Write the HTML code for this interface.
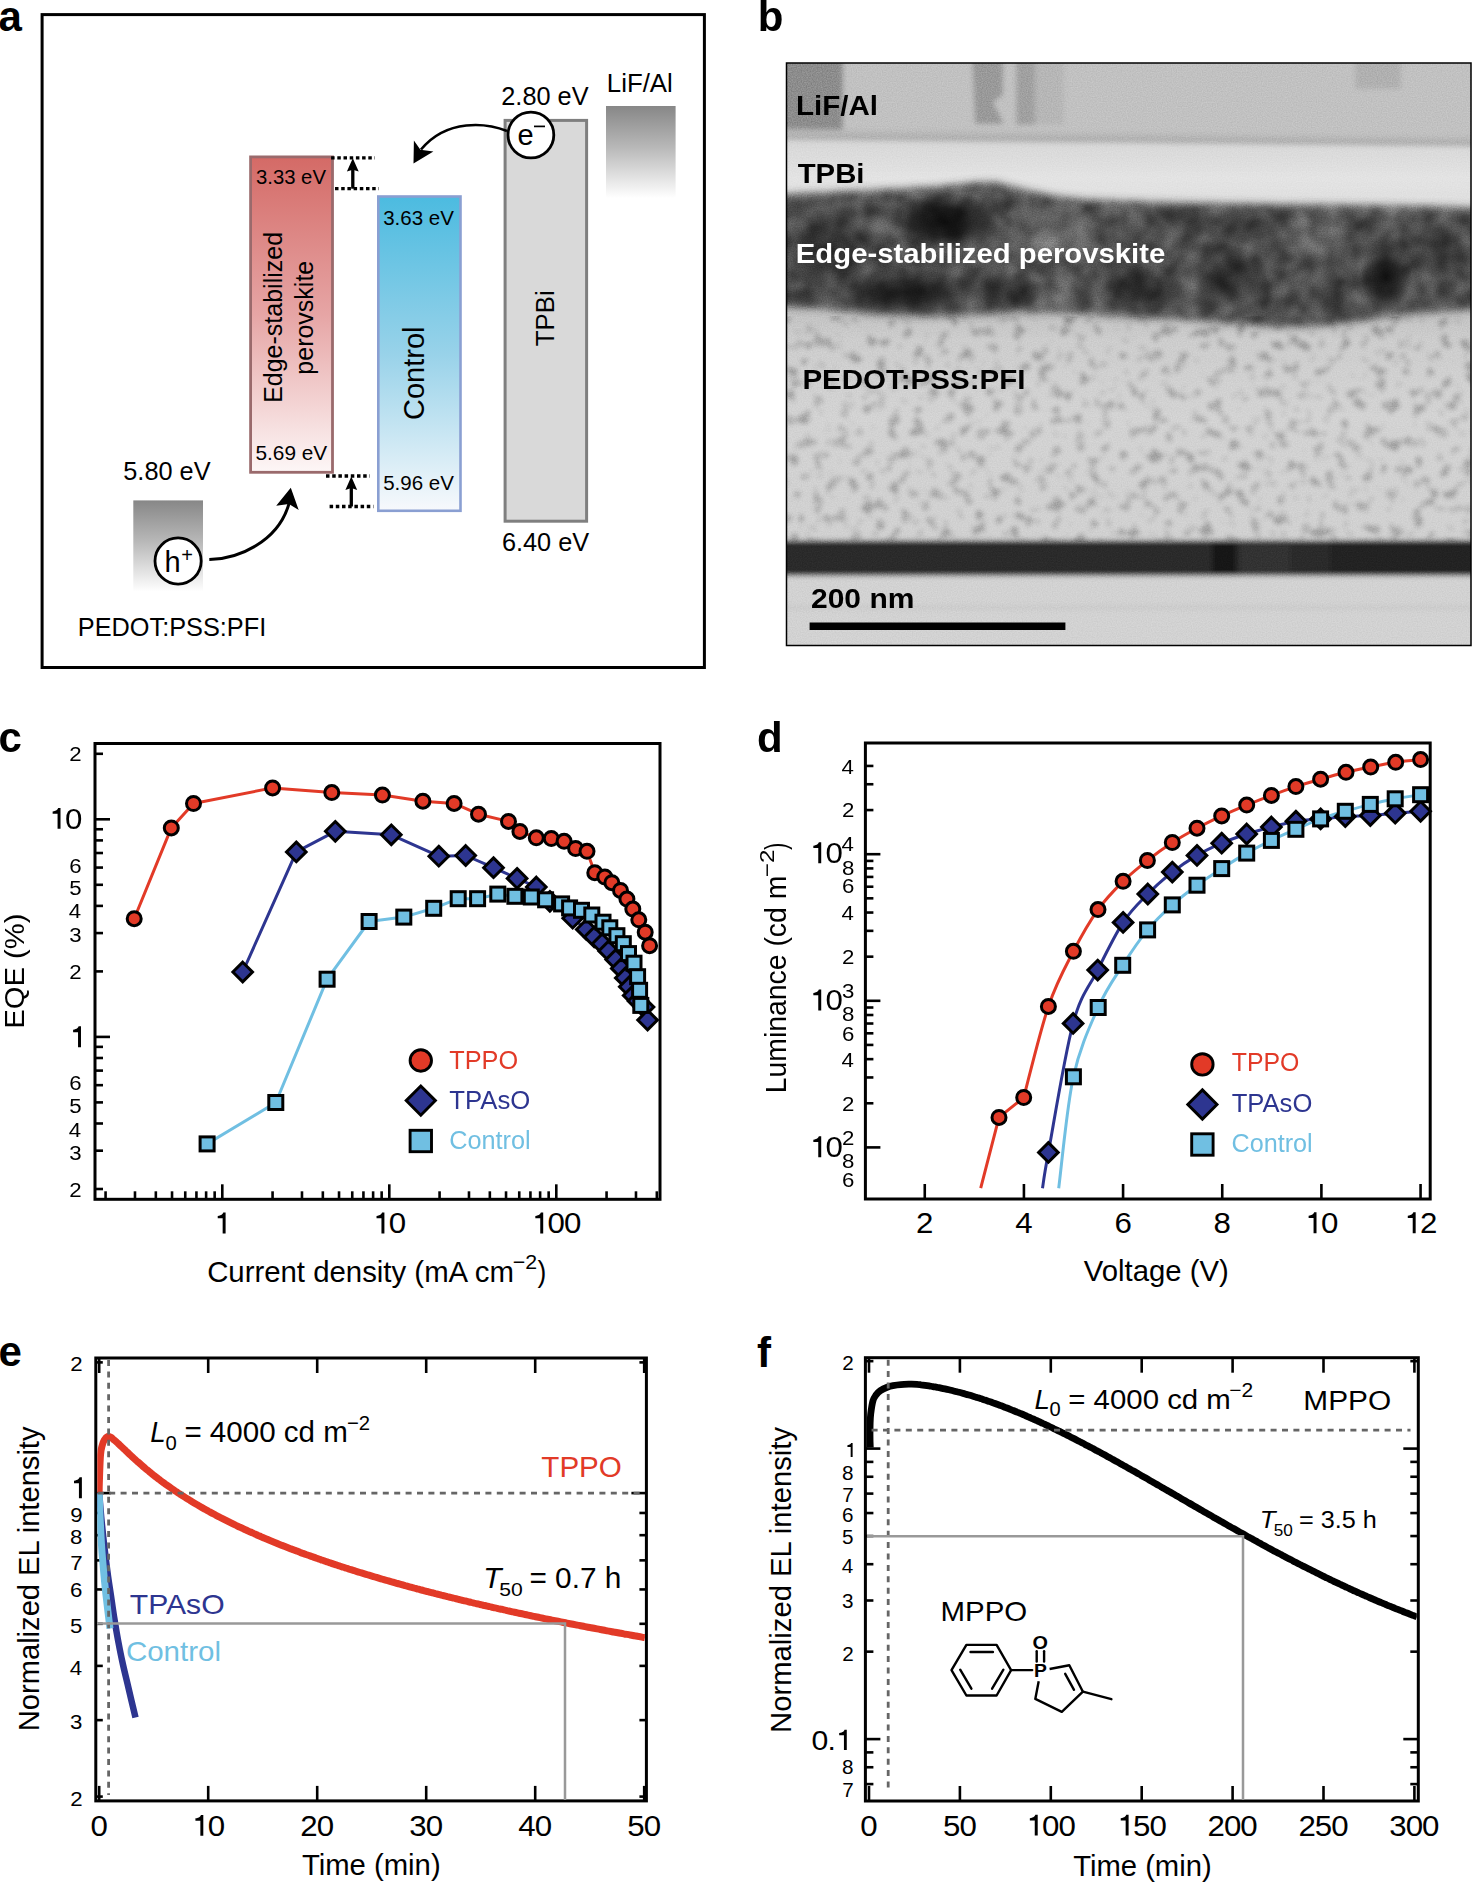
<!DOCTYPE html>
<html><head><meta charset="utf-8"><style>
html,body{margin:0;padding:0;background:#fff;}
svg{display:block;}
text{font-family:"Liberation Sans", sans-serif;}
</style></head><body>
<svg xmlns="http://www.w3.org/2000/svg" width="1472" height="1884" viewBox="0 0 1472 1884">
<rect width="1472" height="1884" fill="#fff"/>
<defs><linearGradient id="gRed" x1="0" y1="0" x2="0" y2="1"><stop offset="0" stop-color="#d46a66"/><stop offset="0.5" stop-color="#e6a5a5"/><stop offset="1" stop-color="#fdf7f7"/></linearGradient><linearGradient id="gBlue" x1="0" y1="0" x2="0" y2="1"><stop offset="0" stop-color="#4cbbe0"/><stop offset="0.5" stop-color="#98d2e9"/><stop offset="1" stop-color="#f7f9fc"/></linearGradient><linearGradient id="gGray" x1="0" y1="0" x2="0" y2="1"><stop offset="0" stop-color="#878787"/><stop offset="0.45" stop-color="#b8b8b8"/><stop offset="1" stop-color="#ffffff"/></linearGradient></defs>
<text x="-1.5" y="31.0" font-size="42" font-weight="bold" fill="#000">a</text>
<rect x="42.1" y="14.6" width="662.3" height="652.9" fill="none" stroke="#000" stroke-width="3"/>
<rect x="606" y="106" width="69.6" height="92" fill="url(#gGray)"/>
<rect x="133.3" y="500.4" width="69.7" height="91.3" fill="url(#gGray)"/>
<rect x="250.6" y="156.9" width="81.9" height="315.4" fill="url(#gRed)" stroke="#9a6a6c" stroke-width="2.8"/>
<rect x="378.3" y="196.5" width="82.2" height="314.3" fill="url(#gBlue)" stroke="#8a9fd2" stroke-width="2.6"/>
<rect x="505.1" y="120.4" width="81.5" height="400.8" fill="#d9d9d9" stroke="#7f7f7f" stroke-width="3"/>
<text x="501.3" y="105.4" font-size="25.3" fill="#000">2.80 eV</text>
<text x="606.8" y="92.0" font-size="25.8" fill="#000">LiF/Al</text>
<text x="123.3" y="479.8" font-size="25.3" fill="#000">5.80 eV</text>
<text x="501.9" y="550.5" font-size="25.3" fill="#000">6.40 eV</text>
<text x="77.8" y="636.3" font-size="25.3" fill="#000">PEDOT:PSS:PFI</text>
<text x="256.0" y="184.0" font-size="20.3" fill="#000">3.33 eV</text>
<text x="255.5" y="459.8" font-size="20.8" fill="#000">5.69 eV</text>
<text x="383.2" y="225.2" font-size="20.5" fill="#000">3.63 eV</text>
<text x="383.2" y="490.0" font-size="20.5" fill="#000">5.96 eV</text>
<text transform="translate(282.3,317.4) rotate(-90)" font-size="25" text-anchor="middle">Edge-stabilized</text>
<text transform="translate(313,317.7) rotate(-90)" font-size="25" text-anchor="middle">perovskite</text>
<text transform="translate(423.5,373.2) rotate(-90)" font-size="29" text-anchor="middle">Control</text>
<text transform="translate(553.8,318.2) rotate(-90)" font-size="25.8" text-anchor="middle">TPBi</text>
<line x1="331.10" y1="157.90" x2="374.90" y2="157.90" stroke="#000" stroke-width="3.3" stroke-dasharray="3.5 2.7"/>
<line x1="335.00" y1="188.70" x2="378.80" y2="188.70" stroke="#000" stroke-width="3.3" stroke-dasharray="3.5 2.7"/>
<line x1="326.00" y1="476.00" x2="369.80" y2="476.00" stroke="#000" stroke-width="3.3" stroke-dasharray="3.5 2.7"/>
<line x1="329.60" y1="506.50" x2="373.40" y2="506.50" stroke="#000" stroke-width="3.3" stroke-dasharray="3.5 2.7"/>
<line x1="352.80" y1="188.70" x2="352.80" y2="169.20" stroke="#000" stroke-width="3.3"/>
<path d="M352.8,158.2 L346.90000000000003,171.6 L352.8,169.79999999999998 L358.7,171.6 Z" fill="#000"/>
<line x1="351.30" y1="506.50" x2="351.30" y2="487.50" stroke="#000" stroke-width="3.3"/>
<path d="M351.3,476.5 L345.40000000000003,489.9 L351.3,488.1 L357.2,489.9 Z" fill="#000"/>
<circle cx="530.9" cy="135" r="22.9" fill="#fff" stroke="#000" stroke-width="2.8"/>
<text x="517.6" y="144.7" font-size="29" fill="#000">e</text>
<line x1="534" y1="126.4" x2="545" y2="126.4" stroke="#000" stroke-width="1.7"/>
<circle cx="178.1" cy="561" r="23.1" fill="#fff" stroke="#000" stroke-width="2.8"/>
<text x="164.5" y="572.0" font-size="29" fill="#000">h</text>
<text x="181.3" y="561.5" font-size="20" fill="#000">+</text>
<path d="M507,131 C487,123 447,118 421,149.5" fill="none" stroke="#000" stroke-width="2.6"/>
<path d="M413.5,163.6 L413.9,140.4 L420.4,149.7 L433.4,151.4 Z" fill="#000"/>
<path d="M209.3,559.6 C238,559 278,542 288.9,503.9" fill="none" stroke="#000" stroke-width="3"/>
<path d="M290.8,487.8 L298.7,509.9 L288.9,503.9 L276.2,505.8 Z" fill="#000"/>
<defs><clipPath id="cpB"><rect x="786.5" y="63" width="684.5" height="582.5"/></clipPath><filter id="blurB" x="-5%" y="-5%" width="110%" height="110%"><feGaussianBlur stdDeviation="2.5"/></filter><filter id="blurP" x="-5%" y="-20%" width="110%" height="140%"><feGaussianBlur stdDeviation="4.5"/></filter><filter id="blurB2" x="-30%" y="-30%" width="160%" height="160%"><feGaussianBlur stdDeviation="9"/></filter><filter id="speck" x="0" y="0" width="100%" height="100%" color-interpolation-filters="sRGB"><feTurbulence type="fractalNoise" baseFrequency="0.08" numOctaves="2" seed="7"/><feColorMatrix type="matrix" values="0 0 0 0 0  0 0 0 0 0  0 0 0 0 0  -4.5 0 0 0 2.1"/><feGaussianBlur stdDeviation="2.2"/></filter><filter id="blot" x="0" y="0" width="100%" height="100%" color-interpolation-filters="sRGB"><feTurbulence type="fractalNoise" baseFrequency="0.055" numOctaves="2" seed="4"/><feColorMatrix type="matrix" values="1.3 0 0 0 -0.15  1.3 0 0 0 -0.15  1.3 0 0 0 -0.15  0 0 0 0 1"/><feGaussianBlur stdDeviation="2"/></filter><filter id="grain" x="0" y="0" width="100%" height="100%" color-interpolation-filters="sRGB"><feTurbulence type="fractalNoise" baseFrequency="0.8" numOctaves="1" seed="5"/><feColorMatrix type="matrix" values="1 0 0 0 0  1 0 0 0 0  1 0 0 0 0  0 0 0 0 1"/></filter><linearGradient id="gTPBi" x1="0" y1="0" x2="0" y2="1"><stop offset="0" stop-color="#d6d6d6"/><stop offset="0.5" stop-color="#e3e3e3"/><stop offset="1" stop-color="#dddddd"/></linearGradient><linearGradient id="gPED" x1="0" y1="0" x2="0" y2="1"><stop offset="0" stop-color="#b8b8b8"/><stop offset="0.2" stop-color="#cdcdcd"/><stop offset="0.5" stop-color="#d3d3d3"/><stop offset="1" stop-color="#d0d0d0"/></linearGradient><clipPath id="cpPer"><path d="M776,196 C820,193 880,191 930,188 C960,186 985,181 1000,184 C1015,188 1040,196 1080,200 C1150,204 1250,205 1350,206 C1420,207 1460,208 1480,209 L1480,308 C1440,310 1410,313 1380,317 C1330,325 1300,327 1260,325 C1220,321 1180,317 1150,317 C1100,315 1070,311 1040,311 C1000,312 960,315 920,315 C880,315 850,311 820,307 L776,305 Z"/></clipPath></defs>
<g clip-path="url(#cpB)" style="isolation:isolate">
<g filter="url(#blurB)">
<rect x="776.5" y="53" width="704.5" height="90" fill="#c1c1c1"/>
<path d="M780,55 L843,55 L843,126 Q843,133 836,133 L780,133 Z" fill="#8c8c8c"/>
<path d="M972,55 L1003,55 L1003,95 L993,102 L1004,124 L975,124 Z" fill="#999"/>
<rect x="1016" y="55" width="19" height="70" fill="#a0a0a0"/>
<rect x="1035" y="55" width="29" height="70" fill="#b6b6b6"/>
<rect x="1355" y="55" width="46" height="34" fill="#b0b0b0"/>
<path d="M776.5,129 L1481,137 L1481,147 L776.5,140 Z" fill="#b8b8b8"/>
<path d="M776.5,135 L1481,141.5 L1481,145.5 L776.5,139 Z" fill="#acacac"/>
<path d="M776.5,140 L1481,147 L1481,215 L776.5,215 Z" fill="url(#gTPBi)"/>
<rect x="776.5" y="290" width="704.5" height="252" fill="url(#gPED)"/>
<rect x="776.5" y="540.5" width="704.5" height="36" fill="#2a2a2a"/>
<rect x="1212" y="540.5" width="24" height="36" fill="#161616"/>
<rect x="1240" y="540.5" width="50" height="36" fill="#333"/>
<rect x="1330" y="540.5" width="145" height="36" fill="#222"/>
<rect x="776.5" y="575.5" width="704.5" height="80" fill="#d2d2d2"/>
<rect x="776.5" y="606" width="704.5" height="3" fill="#c6c6c6"/>
</g>
<path d="M776,196 C820,193 880,191 930,188 C960,186 985,181 1000,184 C1015,188 1040,196 1080,200 C1150,204 1250,205 1350,206 C1420,207 1460,208 1480,209 L1480,308 C1440,310 1410,313 1380,317 C1330,325 1300,327 1260,325 C1220,321 1180,317 1150,317 C1100,315 1070,311 1040,311 C1000,312 960,315 920,315 C880,315 850,311 820,307 L776,305 Z" fill="#3a3a3a" filter="url(#blurP)"/>
<defs><radialGradient id="rgD"><stop offset="0" stop-color="#000" stop-opacity="1"/><stop offset="0.45" stop-color="#000" stop-opacity="0.75"/><stop offset="1" stop-color="#000" stop-opacity="0"/></radialGradient><radialGradient id="rgL"><stop offset="0" stop-color="#fff" stop-opacity="1"/><stop offset="0.5" stop-color="#fff" stop-opacity="0.6"/><stop offset="1" stop-color="#fff" stop-opacity="0"/></radialGradient><mask id="mPer" maskUnits="userSpaceOnUse" x="780" y="150" width="700" height="200"><path d="M776,196 C820,193 880,191 930,188 C960,186 985,181 1000,184 C1015,188 1040,196 1080,200 C1150,204 1250,205 1350,206 C1420,207 1460,208 1480,209 L1480,308 C1440,310 1410,313 1380,317 C1330,325 1300,327 1260,325 C1220,321 1180,317 1150,317 C1100,315 1070,311 1040,311 C1000,312 960,315 920,315 C880,315 850,311 820,307 L776,305 Z" fill="#fff" filter="url(#blurP)"/></mask></defs>
<g mask="url(#mPer)">
<ellipse cx="945" cy="222" rx="55" ry="30" fill="url(#rgD)" opacity="0.85"/>
<ellipse cx="905" cy="292" rx="75" ry="24" fill="url(#rgD)" opacity="0.7"/>
<ellipse cx="830" cy="250" rx="50" ry="42" fill="url(#rgD)" opacity="0.45"/>
<ellipse cx="1386" cy="277" rx="26" ry="34" fill="url(#rgD)" opacity="0.8"/>
<ellipse cx="1230" cy="275" rx="38" ry="32" fill="url(#rgD)" opacity="0.5"/>
<ellipse cx="1250" cy="225" rx="50" ry="22" fill="url(#rgD)" opacity="0.2"/>
<ellipse cx="1140" cy="288" rx="45" ry="26" fill="url(#rgD)" opacity="0.5"/>
<ellipse cx="1010" cy="292" rx="35" ry="20" fill="url(#rgD)" opacity="0.45"/>
<ellipse cx="1440" cy="250" rx="35" ry="30" fill="url(#rgD)" opacity="0.3"/>
<ellipse cx="1180" cy="218" rx="40" ry="16" fill="url(#rgD)" opacity="0.25"/>
<ellipse cx="800" cy="300" rx="30" ry="15" fill="url(#rgD)" opacity="0.3"/>
<ellipse cx="1330" cy="300" rx="30" ry="15" fill="url(#rgD)" opacity="0.3"/>
<ellipse cx="1050" cy="235" rx="55" ry="38" fill="url(#rgL)" opacity="0.2"/>
<ellipse cx="1315" cy="235" rx="35" ry="28" fill="url(#rgL)" opacity="0.14"/>
<ellipse cx="1060" cy="300" rx="40" ry="18" fill="url(#rgL)" opacity="0.1"/>
<rect x="786" y="170" width="690" height="170" filter="url(#blot)" style="mix-blend-mode:overlay" opacity="0.3"/>
</g>
<rect x="786" y="316" width="690" height="226" filter="url(#speck)" opacity="0.24"/>
<rect x="786.5" y="63" width="684.5" height="582.5" filter="url(#grain)" style="mix-blend-mode:overlay" opacity="0.25"/>
</g>
<rect x="786.5" y="63" width="684.5" height="582.5" fill="none" stroke="#000" stroke-width="1.5"/>
<text x="757.8" y="31.0" font-size="42" font-weight="bold" fill="#000">b</text>
<text transform="translate(796.01,115.00) scale(1.0367,1)" font-size="28.5" font-weight="bold" fill="#000">LiF/Al</text>
<text transform="translate(797.71,182.50) scale(1.0283,1)" font-size="28.5" font-weight="bold" fill="#000">TPBi</text>
<text transform="translate(795.82,263.40) scale(1.0281,1)" font-size="28.5" font-weight="bold" fill="#fff">Edge-stabilized perovskite</text>
<text transform="translate(802.41,389.30) scale(1.0357,1)" font-size="28.5" font-weight="bold" fill="#000">PEDOT:PSS:PFI</text>
<text transform="translate(810.95,608.00) scale(1.0537,1)" font-size="28.5" font-weight="bold" fill="#000">200 nm</text>
<rect x="809.6" y="622.5" width="255.8" height="7.5" fill="#000"/>
<text x="-1.5" y="751.5" font-size="42" font-weight="bold" fill="#000">c</text>
<rect x="95" y="743.5" width="565" height="455.79999999999995" fill="none" stroke="#000" stroke-width="3"/>
<line x1="105.57" y1="1199.30" x2="105.57" y2="1191.30" stroke="#000" stroke-width="2.6"/>
<line x1="134.98" y1="1199.30" x2="134.98" y2="1191.30" stroke="#000" stroke-width="2.6"/>
<line x1="155.84" y1="1199.30" x2="155.84" y2="1191.30" stroke="#000" stroke-width="2.6"/>
<line x1="172.03" y1="1199.30" x2="172.03" y2="1191.30" stroke="#000" stroke-width="2.6"/>
<line x1="185.25" y1="1199.30" x2="185.25" y2="1191.30" stroke="#000" stroke-width="2.6"/>
<line x1="196.43" y1="1199.30" x2="196.43" y2="1191.30" stroke="#000" stroke-width="2.6"/>
<line x1="206.12" y1="1199.30" x2="206.12" y2="1191.30" stroke="#000" stroke-width="2.6"/>
<line x1="214.66" y1="1199.30" x2="214.66" y2="1191.30" stroke="#000" stroke-width="2.6"/>
<line x1="222.30" y1="1199.30" x2="222.30" y2="1184.30" stroke="#000" stroke-width="2.6"/>
<line x1="272.57" y1="1199.30" x2="272.57" y2="1191.30" stroke="#000" stroke-width="2.6"/>
<line x1="301.98" y1="1199.30" x2="301.98" y2="1191.30" stroke="#000" stroke-width="2.6"/>
<line x1="322.84" y1="1199.30" x2="322.84" y2="1191.30" stroke="#000" stroke-width="2.6"/>
<line x1="339.03" y1="1199.30" x2="339.03" y2="1191.30" stroke="#000" stroke-width="2.6"/>
<line x1="352.25" y1="1199.30" x2="352.25" y2="1191.30" stroke="#000" stroke-width="2.6"/>
<line x1="363.43" y1="1199.30" x2="363.43" y2="1191.30" stroke="#000" stroke-width="2.6"/>
<line x1="373.12" y1="1199.30" x2="373.12" y2="1191.30" stroke="#000" stroke-width="2.6"/>
<line x1="381.66" y1="1199.30" x2="381.66" y2="1191.30" stroke="#000" stroke-width="2.6"/>
<line x1="389.30" y1="1199.30" x2="389.30" y2="1184.30" stroke="#000" stroke-width="2.6"/>
<line x1="439.57" y1="1199.30" x2="439.57" y2="1191.30" stroke="#000" stroke-width="2.6"/>
<line x1="468.98" y1="1199.30" x2="468.98" y2="1191.30" stroke="#000" stroke-width="2.6"/>
<line x1="489.84" y1="1199.30" x2="489.84" y2="1191.30" stroke="#000" stroke-width="2.6"/>
<line x1="506.03" y1="1199.30" x2="506.03" y2="1191.30" stroke="#000" stroke-width="2.6"/>
<line x1="519.25" y1="1199.30" x2="519.25" y2="1191.30" stroke="#000" stroke-width="2.6"/>
<line x1="530.43" y1="1199.30" x2="530.43" y2="1191.30" stroke="#000" stroke-width="2.6"/>
<line x1="540.12" y1="1199.30" x2="540.12" y2="1191.30" stroke="#000" stroke-width="2.6"/>
<line x1="548.66" y1="1199.30" x2="548.66" y2="1191.30" stroke="#000" stroke-width="2.6"/>
<line x1="556.30" y1="1199.30" x2="556.30" y2="1184.30" stroke="#000" stroke-width="2.6"/>
<line x1="606.57" y1="1199.30" x2="606.57" y2="1191.30" stroke="#000" stroke-width="2.6"/>
<line x1="635.98" y1="1199.30" x2="635.98" y2="1191.30" stroke="#000" stroke-width="2.6"/>
<line x1="656.84" y1="1199.30" x2="656.84" y2="1191.30" stroke="#000" stroke-width="2.6"/>
<line x1="95.00" y1="1189.00" x2="103.00" y2="1189.00" stroke="#000" stroke-width="2.6"/>
<line x1="95.00" y1="1150.68" x2="103.00" y2="1150.68" stroke="#000" stroke-width="2.6"/>
<line x1="95.00" y1="1123.49" x2="103.00" y2="1123.49" stroke="#000" stroke-width="2.6"/>
<line x1="95.00" y1="1102.40" x2="103.00" y2="1102.40" stroke="#000" stroke-width="2.6"/>
<line x1="95.00" y1="1085.17" x2="103.00" y2="1085.17" stroke="#000" stroke-width="2.6"/>
<line x1="95.00" y1="1070.61" x2="103.00" y2="1070.61" stroke="#000" stroke-width="2.6"/>
<line x1="95.00" y1="1057.99" x2="103.00" y2="1057.99" stroke="#000" stroke-width="2.6"/>
<line x1="95.00" y1="1046.86" x2="103.00" y2="1046.86" stroke="#000" stroke-width="2.6"/>
<line x1="95.00" y1="1036.90" x2="110.00" y2="1036.90" stroke="#000" stroke-width="2.6"/>
<line x1="95.00" y1="971.40" x2="103.00" y2="971.40" stroke="#000" stroke-width="2.6"/>
<line x1="95.00" y1="933.08" x2="103.00" y2="933.08" stroke="#000" stroke-width="2.6"/>
<line x1="95.00" y1="905.89" x2="103.00" y2="905.89" stroke="#000" stroke-width="2.6"/>
<line x1="95.00" y1="884.80" x2="103.00" y2="884.80" stroke="#000" stroke-width="2.6"/>
<line x1="95.00" y1="867.57" x2="103.00" y2="867.57" stroke="#000" stroke-width="2.6"/>
<line x1="95.00" y1="853.01" x2="103.00" y2="853.01" stroke="#000" stroke-width="2.6"/>
<line x1="95.00" y1="840.39" x2="103.00" y2="840.39" stroke="#000" stroke-width="2.6"/>
<line x1="95.00" y1="829.26" x2="103.00" y2="829.26" stroke="#000" stroke-width="2.6"/>
<line x1="95.00" y1="819.30" x2="110.00" y2="819.30" stroke="#000" stroke-width="2.6"/>
<line x1="95.00" y1="753.80" x2="103.00" y2="753.80" stroke="#000" stroke-width="2.6"/>
<path d="M0.29,0 L0.39,0 L0.39,-0.709 L0.31,-0.709 C0.295,-0.665 0.265,-0.615 0.123,-0.592 L0.123,-0.512 L0.29,-0.512 Z" transform="translate(214.10,1233.40) scale(29.5)" fill="#000"/>
<path d="M0.29,0 L0.39,0 L0.39,-0.709 L0.31,-0.709 C0.295,-0.665 0.265,-0.615 0.123,-0.592 L0.123,-0.512 L0.29,-0.512 Z" transform="translate(372.90,1233.40) scale(29.5)" fill="#000"/>
<text transform="translate(397.50,1233.40) scale(1.06,1)" font-size="29.5" text-anchor="middle" fill="#000">0</text>
<path d="M0.29,0 L0.39,0 L0.39,-0.709 L0.31,-0.709 C0.295,-0.665 0.265,-0.615 0.123,-0.592 L0.123,-0.512 L0.29,-0.512 Z" transform="translate(531.70,1233.40) scale(29.5)" fill="#000"/>
<text transform="translate(556.30,1233.40) scale(1.06,1)" font-size="29.5" text-anchor="middle" fill="#000">0</text>
<text transform="translate(572.70,1233.40) scale(1.06,1)" font-size="29.5" text-anchor="middle" fill="#000">0</text>
<path d="M0.29,0 L0.39,0 L0.39,-0.709 L0.31,-0.709 C0.295,-0.665 0.265,-0.615 0.123,-0.592 L0.123,-0.512 L0.29,-0.512 Z" transform="translate(49.01,828.84) scale(29.5)" fill="#000"/>
<text transform="translate(73.61,828.84) scale(1.06,1)" font-size="29.5" text-anchor="middle" fill="#000">0</text>
<path d="M0.29,0 L0.39,0 L0.39,-0.709 L0.31,-0.709 C0.295,-0.665 0.265,-0.615 0.123,-0.592 L0.123,-0.512 L0.29,-0.512 Z" transform="translate(69.48,1047.24) scale(29.5)" fill="#000"/>
<text transform="translate(75.55,760.93) scale(1.06,1)" font-size="21" text-anchor="middle" fill="#000">2</text>
<text transform="translate(75.38,872.63) scale(1.06,1)" font-size="21" text-anchor="middle" fill="#000">6</text>
<text transform="translate(75.32,895.23) scale(1.06,1)" font-size="21" text-anchor="middle" fill="#000">5</text>
<text transform="translate(75.04,917.83) scale(1.06,1)" font-size="21" text-anchor="middle" fill="#000">4</text>
<text transform="translate(75.38,942.43) scale(1.06,1)" font-size="21" text-anchor="middle" fill="#000">3</text>
<text transform="translate(75.55,979.23) scale(1.06,1)" font-size="21" text-anchor="middle" fill="#000">2</text>
<text transform="translate(75.38,1090.43) scale(1.06,1)" font-size="21" text-anchor="middle" fill="#000">6</text>
<text transform="translate(75.32,1113.43) scale(1.06,1)" font-size="21" text-anchor="middle" fill="#000">5</text>
<text transform="translate(75.04,1136.93) scale(1.06,1)" font-size="21" text-anchor="middle" fill="#000">4</text>
<text transform="translate(75.38,1159.53) scale(1.06,1)" font-size="21" text-anchor="middle" fill="#000">3</text>
<text transform="translate(75.55,1197.43) scale(1.06,1)" font-size="21" text-anchor="middle" fill="#000">2</text>
<text transform="translate(23.90,1028.81) rotate(-90) scale(1.0261,1)" font-size="28.5" fill="#000">EQE (%)</text>
<text transform="translate(207.13,1281.70) scale(1.0129,1)" font-size="29" fill="#000">Current density (mA cm</text>
<text transform="translate(512.73,1268.80) scale(1.0413,1)" font-size="20.5" fill="#000">−2</text>
<text transform="translate(537.60,1281.70) scale(0.9109,1)" font-size="29" fill="#000">)</text>
<polyline points="134.2,918.7 171.3,827.9 193.5,803.5 272.6,787.9 331.8,792.6 382.4,795.1 422.9,801.2 454.1,803.4 478.5,814.2 508.5,821.4 519.9,831.4 536.3,837.8 551.3,838.5 564.1,841.3 575.6,848.5 587.0,851.3 594.8,872.7 604.8,877.0 611.9,882.7 620.5,890.4 626.9,899.1 632.8,909.1 638.8,919.8 645.2,932.2 649.6,945.7" fill="none" stroke="#e23a27" stroke-width="3" stroke-linejoin="round"/>
<polyline points="242.7,972.0 296.3,851.9 335.3,831.3 391.3,834.8 438.8,856.2 465.7,855.5 493.5,867.7 517.1,878.4 536.3,887.0 549.9,901.3 572.7,918.2 586.3,929.4 594.2,936.9 602.2,943.7 608.6,950.9 615.7,959.6 621.3,968.4 625.3,977.9 629.3,986.7 633.2,995.4 638.0,1001.0 644.0,1007.0 647.6,1020.1" fill="none" stroke="#2d3590" stroke-width="3" stroke-linejoin="round"/>
<polyline points="207.1,1143.9 275.8,1102.5 327.1,979.2 369.1,921.5 403.8,917.1 433.7,908.3 458.2,898.7 477.6,898.7 497.8,894.1 514.9,896.3 531.3,897.0 545.6,899.8 561.6,903.9 569.6,907.9 581.5,910.3 591.8,915.0 603.0,922.2 609.8,927.8 616.9,935.7 623.3,943.7 628.5,953.6 634.0,963.2 637.6,976.7 639.6,990.3 640.8,1005.4" fill="none" stroke="#70bfe2" stroke-width="3" stroke-linejoin="round"/>
<circle cx="134.2" cy="918.7" r="7.0" fill="#e23a27" stroke="#000" stroke-width="3.0"/>
<circle cx="171.3" cy="827.9" r="7.0" fill="#e23a27" stroke="#000" stroke-width="3.0"/>
<circle cx="193.5" cy="803.5" r="7.0" fill="#e23a27" stroke="#000" stroke-width="3.0"/>
<circle cx="272.6" cy="787.9" r="7.0" fill="#e23a27" stroke="#000" stroke-width="3.0"/>
<circle cx="331.8" cy="792.6" r="7.0" fill="#e23a27" stroke="#000" stroke-width="3.0"/>
<circle cx="382.4" cy="795.1" r="7.0" fill="#e23a27" stroke="#000" stroke-width="3.0"/>
<circle cx="422.9" cy="801.2" r="7.0" fill="#e23a27" stroke="#000" stroke-width="3.0"/>
<circle cx="454.1" cy="803.4" r="7.0" fill="#e23a27" stroke="#000" stroke-width="3.0"/>
<circle cx="478.5" cy="814.2" r="7.0" fill="#e23a27" stroke="#000" stroke-width="3.0"/>
<circle cx="508.5" cy="821.4" r="7.0" fill="#e23a27" stroke="#000" stroke-width="3.0"/>
<circle cx="519.9" cy="831.4" r="7.0" fill="#e23a27" stroke="#000" stroke-width="3.0"/>
<circle cx="536.3" cy="837.8" r="7.0" fill="#e23a27" stroke="#000" stroke-width="3.0"/>
<circle cx="551.3" cy="838.5" r="7.0" fill="#e23a27" stroke="#000" stroke-width="3.0"/>
<circle cx="564.1" cy="841.3" r="7.0" fill="#e23a27" stroke="#000" stroke-width="3.0"/>
<circle cx="575.6" cy="848.5" r="7.0" fill="#e23a27" stroke="#000" stroke-width="3.0"/>
<circle cx="587.0" cy="851.3" r="7.0" fill="#e23a27" stroke="#000" stroke-width="3.0"/>
<circle cx="594.8" cy="872.7" r="7.0" fill="#e23a27" stroke="#000" stroke-width="3.0"/>
<circle cx="604.8" cy="877.0" r="7.0" fill="#e23a27" stroke="#000" stroke-width="3.0"/>
<circle cx="611.9" cy="882.7" r="7.0" fill="#e23a27" stroke="#000" stroke-width="3.0"/>
<circle cx="620.5" cy="890.4" r="7.0" fill="#e23a27" stroke="#000" stroke-width="3.0"/>
<circle cx="626.9" cy="899.1" r="7.0" fill="#e23a27" stroke="#000" stroke-width="3.0"/>
<circle cx="632.8" cy="909.1" r="7.0" fill="#e23a27" stroke="#000" stroke-width="3.0"/>
<circle cx="638.8" cy="919.8" r="7.0" fill="#e23a27" stroke="#000" stroke-width="3.0"/>
<circle cx="645.2" cy="932.2" r="7.0" fill="#e23a27" stroke="#000" stroke-width="3.0"/>
<circle cx="649.6" cy="945.7" r="7.0" fill="#e23a27" stroke="#000" stroke-width="3.0"/>
<path d="M242.7,962.2 L252.5,972.0 L242.7,981.8 L232.9,972.0 Z" fill="#2d3590" stroke="#000" stroke-width="3.0" stroke-linejoin="miter"/>
<path d="M296.3,842.1 L306.1,851.9 L296.3,861.7 L286.5,851.9 Z" fill="#2d3590" stroke="#000" stroke-width="3.0" stroke-linejoin="miter"/>
<path d="M335.3,821.5 L345.1,831.3 L335.3,841.1 L325.5,831.3 Z" fill="#2d3590" stroke="#000" stroke-width="3.0" stroke-linejoin="miter"/>
<path d="M391.3,825.0 L401.1,834.8 L391.3,844.6 L381.5,834.8 Z" fill="#2d3590" stroke="#000" stroke-width="3.0" stroke-linejoin="miter"/>
<path d="M438.8,846.4 L448.6,856.2 L438.8,866.0 L429.0,856.2 Z" fill="#2d3590" stroke="#000" stroke-width="3.0" stroke-linejoin="miter"/>
<path d="M465.7,845.7 L475.5,855.5 L465.7,865.3 L455.9,855.5 Z" fill="#2d3590" stroke="#000" stroke-width="3.0" stroke-linejoin="miter"/>
<path d="M493.5,857.9 L503.3,867.7 L493.5,877.5 L483.7,867.7 Z" fill="#2d3590" stroke="#000" stroke-width="3.0" stroke-linejoin="miter"/>
<path d="M517.1,868.6 L526.9,878.4 L517.1,888.2 L507.3,878.4 Z" fill="#2d3590" stroke="#000" stroke-width="3.0" stroke-linejoin="miter"/>
<path d="M536.3,877.2 L546.1,887.0 L536.3,896.8 L526.5,887.0 Z" fill="#2d3590" stroke="#000" stroke-width="3.0" stroke-linejoin="miter"/>
<path d="M549.9,891.5 L559.7,901.3 L549.9,911.1 L540.1,901.3 Z" fill="#2d3590" stroke="#000" stroke-width="3.0" stroke-linejoin="miter"/>
<path d="M572.7,908.4 L582.5,918.2 L572.7,928.0 L562.9,918.2 Z" fill="#2d3590" stroke="#000" stroke-width="3.0" stroke-linejoin="miter"/>
<path d="M586.3,919.6 L596.1,929.4 L586.3,939.2 L576.5,929.4 Z" fill="#2d3590" stroke="#000" stroke-width="3.0" stroke-linejoin="miter"/>
<path d="M594.2,927.1 L604.0,936.9 L594.2,946.7 L584.4,936.9 Z" fill="#2d3590" stroke="#000" stroke-width="3.0" stroke-linejoin="miter"/>
<path d="M602.2,933.9 L612.0,943.7 L602.2,953.5 L592.4,943.7 Z" fill="#2d3590" stroke="#000" stroke-width="3.0" stroke-linejoin="miter"/>
<path d="M608.6,941.1 L618.4,950.9 L608.6,960.7 L598.8,950.9 Z" fill="#2d3590" stroke="#000" stroke-width="3.0" stroke-linejoin="miter"/>
<path d="M615.7,949.8 L625.5,959.6 L615.7,969.4 L605.9,959.6 Z" fill="#2d3590" stroke="#000" stroke-width="3.0" stroke-linejoin="miter"/>
<path d="M621.3,958.6 L631.1,968.4 L621.3,978.2 L611.5,968.4 Z" fill="#2d3590" stroke="#000" stroke-width="3.0" stroke-linejoin="miter"/>
<path d="M625.3,968.1 L635.1,977.9 L625.3,987.7 L615.5,977.9 Z" fill="#2d3590" stroke="#000" stroke-width="3.0" stroke-linejoin="miter"/>
<path d="M629.3,976.9 L639.1,986.7 L629.3,996.5 L619.5,986.7 Z" fill="#2d3590" stroke="#000" stroke-width="3.0" stroke-linejoin="miter"/>
<path d="M633.2,985.6 L643.0,995.4 L633.2,1005.2 L623.4,995.4 Z" fill="#2d3590" stroke="#000" stroke-width="3.0" stroke-linejoin="miter"/>
<path d="M638.0,991.2 L647.8,1001.0 L638.0,1010.8 L628.2,1001.0 Z" fill="#2d3590" stroke="#000" stroke-width="3.0" stroke-linejoin="miter"/>
<path d="M644.0,997.2 L653.8,1007.0 L644.0,1016.8 L634.2,1007.0 Z" fill="#2d3590" stroke="#000" stroke-width="3.0" stroke-linejoin="miter"/>
<path d="M647.6,1010.3 L657.4,1020.1 L647.6,1029.9 L637.8,1020.1 Z" fill="#2d3590" stroke="#000" stroke-width="3.0" stroke-linejoin="miter"/>
<rect x="200.1" y="1136.9" width="14" height="14" fill="#70bfe2" stroke="#000" stroke-width="3.0"/>
<rect x="268.8" y="1095.5" width="14" height="14" fill="#70bfe2" stroke="#000" stroke-width="3.0"/>
<rect x="320.1" y="972.2" width="14" height="14" fill="#70bfe2" stroke="#000" stroke-width="3.0"/>
<rect x="362.1" y="914.5" width="14" height="14" fill="#70bfe2" stroke="#000" stroke-width="3.0"/>
<rect x="396.8" y="910.1" width="14" height="14" fill="#70bfe2" stroke="#000" stroke-width="3.0"/>
<rect x="426.7" y="901.3" width="14" height="14" fill="#70bfe2" stroke="#000" stroke-width="3.0"/>
<rect x="451.2" y="891.7" width="14" height="14" fill="#70bfe2" stroke="#000" stroke-width="3.0"/>
<rect x="470.6" y="891.7" width="14" height="14" fill="#70bfe2" stroke="#000" stroke-width="3.0"/>
<rect x="490.8" y="887.1" width="14" height="14" fill="#70bfe2" stroke="#000" stroke-width="3.0"/>
<rect x="507.9" y="889.3" width="14" height="14" fill="#70bfe2" stroke="#000" stroke-width="3.0"/>
<rect x="524.3" y="890.0" width="14" height="14" fill="#70bfe2" stroke="#000" stroke-width="3.0"/>
<rect x="538.6" y="892.8" width="14" height="14" fill="#70bfe2" stroke="#000" stroke-width="3.0"/>
<rect x="554.6" y="896.9" width="14" height="14" fill="#70bfe2" stroke="#000" stroke-width="3.0"/>
<rect x="562.6" y="900.9" width="14" height="14" fill="#70bfe2" stroke="#000" stroke-width="3.0"/>
<rect x="574.5" y="903.3" width="14" height="14" fill="#70bfe2" stroke="#000" stroke-width="3.0"/>
<rect x="584.8" y="908.0" width="14" height="14" fill="#70bfe2" stroke="#000" stroke-width="3.0"/>
<rect x="596.0" y="915.2" width="14" height="14" fill="#70bfe2" stroke="#000" stroke-width="3.0"/>
<rect x="602.8" y="920.8" width="14" height="14" fill="#70bfe2" stroke="#000" stroke-width="3.0"/>
<rect x="609.9" y="928.7" width="14" height="14" fill="#70bfe2" stroke="#000" stroke-width="3.0"/>
<rect x="616.3" y="936.7" width="14" height="14" fill="#70bfe2" stroke="#000" stroke-width="3.0"/>
<rect x="621.5" y="946.6" width="14" height="14" fill="#70bfe2" stroke="#000" stroke-width="3.0"/>
<rect x="627.0" y="956.2" width="14" height="14" fill="#70bfe2" stroke="#000" stroke-width="3.0"/>
<rect x="630.6" y="969.7" width="14" height="14" fill="#70bfe2" stroke="#000" stroke-width="3.0"/>
<rect x="632.6" y="983.3" width="14" height="14" fill="#70bfe2" stroke="#000" stroke-width="3.0"/>
<rect x="633.8" y="998.4" width="14" height="14" fill="#70bfe2" stroke="#000" stroke-width="3.0"/>
<circle cx="420.8" cy="1060.5" r="10.7" fill="#e23a27" stroke="#000" stroke-width="2.9"/>
<path d="M420.8,1086.0 L435.4,1100.6 L420.8,1115.2 L406.2,1100.6 Z" fill="#2d3590" stroke="#000" stroke-width="2.9" stroke-linejoin="miter"/>
<rect x="410.1" y="1130.3" width="21.4" height="21.4" fill="#70bfe2" stroke="#000" stroke-width="2.9"/>
<text transform="translate(449.33,1068.50) scale(1.0119,1)" font-size="25" fill="#e23a27">TPPO</text>
<text transform="translate(449.32,1109.20) scale(1.0294,1)" font-size="25" fill="#2d3590">TPAsO</text>
<text transform="translate(449.14,1149.40) scale(1.0117,1)" font-size="25" fill="#70bfe2">Control</text>
<text x="757.0" y="751.5" font-size="42" font-weight="bold" fill="#000">d</text>
<rect x="865.4" y="743" width="564.8000000000001" height="456" fill="none" stroke="#000" stroke-width="3"/>
<line x1="924.76" y1="1199.00" x2="924.76" y2="1184.00" stroke="#000" stroke-width="2.6"/>
<line x1="1023.92" y1="1199.00" x2="1023.92" y2="1184.00" stroke="#000" stroke-width="2.6"/>
<line x1="1123.08" y1="1199.00" x2="1123.08" y2="1184.00" stroke="#000" stroke-width="2.6"/>
<line x1="1222.24" y1="1199.00" x2="1222.24" y2="1184.00" stroke="#000" stroke-width="2.6"/>
<line x1="1321.40" y1="1199.00" x2="1321.40" y2="1184.00" stroke="#000" stroke-width="2.6"/>
<line x1="1420.56" y1="1199.00" x2="1420.56" y2="1184.00" stroke="#000" stroke-width="2.6"/>
<line x1="865.40" y1="1147.40" x2="880.40" y2="1147.40" stroke="#000" stroke-width="2.6"/>
<line x1="865.40" y1="1103.27" x2="873.40" y2="1103.27" stroke="#000" stroke-width="2.6"/>
<line x1="865.40" y1="1077.45" x2="873.40" y2="1077.45" stroke="#000" stroke-width="2.6"/>
<line x1="865.40" y1="1059.14" x2="873.40" y2="1059.14" stroke="#000" stroke-width="2.6"/>
<line x1="865.40" y1="1044.93" x2="873.40" y2="1044.93" stroke="#000" stroke-width="2.6"/>
<line x1="865.40" y1="1033.32" x2="873.40" y2="1033.32" stroke="#000" stroke-width="2.6"/>
<line x1="865.40" y1="1023.51" x2="873.40" y2="1023.51" stroke="#000" stroke-width="2.6"/>
<line x1="865.40" y1="1015.01" x2="873.40" y2="1015.01" stroke="#000" stroke-width="2.6"/>
<line x1="865.40" y1="1007.51" x2="873.40" y2="1007.51" stroke="#000" stroke-width="2.6"/>
<line x1="865.40" y1="1000.80" x2="880.40" y2="1000.80" stroke="#000" stroke-width="2.6"/>
<line x1="865.40" y1="956.67" x2="873.40" y2="956.67" stroke="#000" stroke-width="2.6"/>
<line x1="865.40" y1="930.85" x2="873.40" y2="930.85" stroke="#000" stroke-width="2.6"/>
<line x1="865.40" y1="912.54" x2="873.40" y2="912.54" stroke="#000" stroke-width="2.6"/>
<line x1="865.40" y1="898.33" x2="873.40" y2="898.33" stroke="#000" stroke-width="2.6"/>
<line x1="865.40" y1="886.72" x2="873.40" y2="886.72" stroke="#000" stroke-width="2.6"/>
<line x1="865.40" y1="876.91" x2="873.40" y2="876.91" stroke="#000" stroke-width="2.6"/>
<line x1="865.40" y1="868.41" x2="873.40" y2="868.41" stroke="#000" stroke-width="2.6"/>
<line x1="865.40" y1="860.91" x2="873.40" y2="860.91" stroke="#000" stroke-width="2.6"/>
<line x1="865.40" y1="854.20" x2="880.40" y2="854.20" stroke="#000" stroke-width="2.6"/>
<line x1="865.40" y1="810.07" x2="873.40" y2="810.07" stroke="#000" stroke-width="2.6"/>
<line x1="865.40" y1="784.25" x2="873.40" y2="784.25" stroke="#000" stroke-width="2.6"/>
<line x1="865.40" y1="765.94" x2="873.40" y2="765.94" stroke="#000" stroke-width="2.6"/>
<text transform="translate(924.76,1233.20) scale(1.06,1)" font-size="29.5" text-anchor="middle" fill="#000">2</text>
<text transform="translate(1023.92,1233.20) scale(1.06,1)" font-size="29.5" text-anchor="middle" fill="#000">4</text>
<text transform="translate(1123.08,1233.20) scale(1.06,1)" font-size="29.5" text-anchor="middle" fill="#000">6</text>
<text transform="translate(1222.24,1233.20) scale(1.06,1)" font-size="29.5" text-anchor="middle" fill="#000">8</text>
<path d="M0.29,0 L0.39,0 L0.39,-0.709 L0.31,-0.709 C0.295,-0.665 0.265,-0.615 0.123,-0.592 L0.123,-0.512 L0.29,-0.512 Z" transform="translate(1305.00,1233.20) scale(29.5)" fill="#000"/>
<text transform="translate(1329.60,1233.20) scale(1.06,1)" font-size="29.5" text-anchor="middle" fill="#000">0</text>
<path d="M0.29,0 L0.39,0 L0.39,-0.709 L0.31,-0.709 C0.295,-0.665 0.265,-0.615 0.123,-0.592 L0.123,-0.512 L0.29,-0.512 Z" transform="translate(1404.16,1233.20) scale(29.5)" fill="#000"/>
<text transform="translate(1428.76,1233.20) scale(1.06,1)" font-size="29.5" text-anchor="middle" fill="#000">2</text>
<text transform="translate(1083.85,1280.60) scale(1.0099,1)" font-size="29" fill="#000">Voltage (V)</text>
<path d="M0.29,0 L0.39,0 L0.39,-0.709 L0.31,-0.709 C0.295,-0.665 0.265,-0.615 0.123,-0.592 L0.123,-0.512 L0.29,-0.512 Z" transform="translate(809.71,863.20) scale(29.5)" fill="#000"/>
<text transform="translate(834.31,863.20) scale(1.06,1)" font-size="29.5" text-anchor="middle" fill="#000">0</text>
<text transform="translate(847.74,850.80) scale(1.06,1)" font-size="21" text-anchor="middle" fill="#000">4</text>
<path d="M0.29,0 L0.39,0 L0.39,-0.709 L0.31,-0.709 C0.295,-0.665 0.265,-0.615 0.123,-0.592 L0.123,-0.512 L0.29,-0.512 Z" transform="translate(809.71,1010.40) scale(29.5)" fill="#000"/>
<text transform="translate(834.31,1010.40) scale(1.06,1)" font-size="29.5" text-anchor="middle" fill="#000">0</text>
<text transform="translate(848.08,998.00) scale(1.06,1)" font-size="21" text-anchor="middle" fill="#000">3</text>
<path d="M0.29,0 L0.39,0 L0.39,-0.709 L0.31,-0.709 C0.295,-0.665 0.265,-0.615 0.123,-0.592 L0.123,-0.512 L0.29,-0.512 Z" transform="translate(809.71,1157.20) scale(29.5)" fill="#000"/>
<text transform="translate(834.31,1157.20) scale(1.06,1)" font-size="29.5" text-anchor="middle" fill="#000">0</text>
<text transform="translate(848.25,1145.00) scale(1.06,1)" font-size="21" text-anchor="middle" fill="#000">2</text>
<text transform="translate(847.74,773.93) scale(1.06,1)" font-size="21" text-anchor="middle" fill="#000">4</text>
<text transform="translate(848.25,817.13) scale(1.06,1)" font-size="21" text-anchor="middle" fill="#000">2</text>
<text transform="translate(848.08,875.03) scale(1.06,1)" font-size="21" text-anchor="middle" fill="#000">8</text>
<text transform="translate(848.08,893.43) scale(1.06,1)" font-size="21" text-anchor="middle" fill="#000">6</text>
<text transform="translate(847.74,919.93) scale(1.06,1)" font-size="21" text-anchor="middle" fill="#000">4</text>
<text transform="translate(848.25,964.13) scale(1.06,1)" font-size="21" text-anchor="middle" fill="#000">2</text>
<text transform="translate(848.08,1021.43) scale(1.06,1)" font-size="21" text-anchor="middle" fill="#000">8</text>
<text transform="translate(848.08,1041.33) scale(1.06,1)" font-size="21" text-anchor="middle" fill="#000">6</text>
<text transform="translate(847.74,1066.93) scale(1.06,1)" font-size="21" text-anchor="middle" fill="#000">4</text>
<text transform="translate(848.25,1110.63) scale(1.06,1)" font-size="21" text-anchor="middle" fill="#000">2</text>
<text transform="translate(848.08,1168.43) scale(1.06,1)" font-size="21" text-anchor="middle" fill="#000">8</text>
<text transform="translate(848.08,1187.03) scale(1.06,1)" font-size="21" text-anchor="middle" fill="#000">6</text>
<text transform="translate(786.30,1093.34) rotate(-90) scale(0.9630,1)" font-size="29.5" fill="#000">Luminance (cd m</text>
<text transform="translate(773.50,877.21) rotate(-90) scale(1.1820,1)" font-size="20.5" fill="#000">−2</text>
<text transform="translate(786.30,849.66) rotate(-90) scale(0.7163,1)" font-size="29.5" fill="#000">)</text>
<polyline points="980.7,1188.2 999.0,1117.4 1023.7,1097.5" fill="none" stroke="#e23a27" stroke-width="3" stroke-linejoin="round"/>
<path d="M1023.7,1097.5 C1027.8,1082.3 1040.1,1030.8 1048.4,1006.4 C1056.7,982.0 1065.1,967.4 1073.4,951.3 C1081.7,935.2 1089.7,921.3 1098.0,909.6 C1106.3,897.9 1114.9,889.5 1123.1,881.3 C1131.3,873.1 1139.2,867.0 1147.4,860.5 C1155.6,854.0 1164.0,847.9 1172.3,842.5 C1180.6,837.1 1188.8,832.6 1197.0,828.2 C1205.2,823.8 1213.4,819.8 1221.7,815.9 C1230.0,812.0 1238.4,808.5 1246.7,805.1 C1255.0,801.7 1263.2,798.5 1271.4,795.4 C1279.6,792.3 1287.7,789.3 1295.9,786.6 C1304.1,783.9 1312.2,781.6 1320.6,779.2 C1328.9,776.8 1337.7,774.3 1346.0,772.3 C1354.3,770.3 1362.4,768.7 1370.7,767.0 C1379.0,765.3 1387.4,763.5 1395.7,762.3 C1404.0,761.1 1416.4,760.0 1420.6,759.6" fill="none" stroke="#e23a27" stroke-width="3" stroke-linejoin="round"/>
<path d="M1042.5,1188.2 C1043.5,1182.2 1043.3,1179.9 1048.4,1152.4 C1053.5,1124.9 1064.9,1053.8 1073.1,1023.4 C1081.3,993.0 1089.4,986.9 1097.7,970.1 C1106.0,953.3 1114.8,935.1 1123.1,922.4 C1131.4,909.7 1139.6,902.4 1147.8,894.0 C1156.0,885.6 1164.1,878.5 1172.3,872.1 C1180.5,865.7 1188.8,860.2 1197.0,855.4 C1205.2,850.6 1213.4,846.8 1221.7,843.2 C1230.0,839.6 1238.4,836.7 1246.7,834.0 C1255.0,831.3 1263.2,829.1 1271.4,827.0 C1279.6,824.9 1287.7,822.6 1295.9,821.2 C1304.1,819.9 1312.4,819.7 1320.6,818.9 C1328.8,818.1 1337.0,817.2 1345.3,816.6 C1353.6,816.0 1362.0,816.1 1370.3,815.5 C1378.6,814.9 1386.8,813.9 1395.2,813.2 C1403.6,812.5 1416.4,811.6 1420.6,811.3" fill="none" stroke="#2d3590" stroke-width="3" stroke-linejoin="round"/>
<path d="M1058.7,1188.2 C1061.2,1169.6 1066.8,1106.9 1073.4,1076.8 C1080.0,1046.7 1090.0,1026.1 1098.2,1007.5 C1106.4,988.9 1114.5,978.2 1122.7,965.3 C1130.9,952.4 1139.3,940.0 1147.6,929.9 C1155.9,919.8 1164.1,912.3 1172.3,904.9 C1180.5,897.5 1188.8,891.2 1197.0,885.2 C1205.2,879.2 1213.4,874.0 1221.7,868.6 C1230.0,863.2 1238.4,857.8 1246.7,853.1 C1255.0,848.4 1263.2,844.4 1271.4,840.4 C1279.6,836.4 1287.7,832.9 1295.9,829.3 C1304.1,825.7 1312.4,821.9 1320.6,818.9 C1328.8,815.9 1337.0,813.7 1345.3,811.3 C1353.6,808.9 1362.0,806.5 1370.3,804.4 C1378.6,802.3 1386.8,800.4 1395.2,798.8 C1403.6,797.2 1416.4,795.4 1420.6,794.7" fill="none" stroke="#70bfe2" stroke-width="3" stroke-linejoin="round"/>
<circle cx="999.0" cy="1117.4" r="7.0" fill="#e23a27" stroke="#000" stroke-width="3.0"/>
<circle cx="1023.7" cy="1097.5" r="7.0" fill="#e23a27" stroke="#000" stroke-width="3.0"/>
<circle cx="1048.4" cy="1006.4" r="7.0" fill="#e23a27" stroke="#000" stroke-width="3.0"/>
<circle cx="1073.4" cy="951.3" r="7.0" fill="#e23a27" stroke="#000" stroke-width="3.0"/>
<circle cx="1098.0" cy="909.6" r="7.0" fill="#e23a27" stroke="#000" stroke-width="3.0"/>
<circle cx="1123.1" cy="881.3" r="7.0" fill="#e23a27" stroke="#000" stroke-width="3.0"/>
<circle cx="1147.4" cy="860.5" r="7.0" fill="#e23a27" stroke="#000" stroke-width="3.0"/>
<circle cx="1172.3" cy="842.5" r="7.0" fill="#e23a27" stroke="#000" stroke-width="3.0"/>
<circle cx="1197.0" cy="828.2" r="7.0" fill="#e23a27" stroke="#000" stroke-width="3.0"/>
<circle cx="1221.7" cy="815.9" r="7.0" fill="#e23a27" stroke="#000" stroke-width="3.0"/>
<circle cx="1246.7" cy="805.1" r="7.0" fill="#e23a27" stroke="#000" stroke-width="3.0"/>
<circle cx="1271.4" cy="795.4" r="7.0" fill="#e23a27" stroke="#000" stroke-width="3.0"/>
<circle cx="1295.9" cy="786.6" r="7.0" fill="#e23a27" stroke="#000" stroke-width="3.0"/>
<circle cx="1320.6" cy="779.2" r="7.0" fill="#e23a27" stroke="#000" stroke-width="3.0"/>
<circle cx="1346.0" cy="772.3" r="7.0" fill="#e23a27" stroke="#000" stroke-width="3.0"/>
<circle cx="1370.7" cy="767.0" r="7.0" fill="#e23a27" stroke="#000" stroke-width="3.0"/>
<circle cx="1395.7" cy="762.3" r="7.0" fill="#e23a27" stroke="#000" stroke-width="3.0"/>
<circle cx="1420.6" cy="759.6" r="7.0" fill="#e23a27" stroke="#000" stroke-width="3.0"/>
<path d="M1048.4,1142.6 L1058.2,1152.4 L1048.4,1162.2 L1038.6,1152.4 Z" fill="#2d3590" stroke="#000" stroke-width="3.0" stroke-linejoin="miter"/>
<path d="M1073.1,1013.6 L1082.9,1023.4 L1073.1,1033.2 L1063.3,1023.4 Z" fill="#2d3590" stroke="#000" stroke-width="3.0" stroke-linejoin="miter"/>
<path d="M1097.7,960.3 L1107.5,970.1 L1097.7,979.9 L1087.9,970.1 Z" fill="#2d3590" stroke="#000" stroke-width="3.0" stroke-linejoin="miter"/>
<path d="M1123.1,912.6 L1132.9,922.4 L1123.1,932.2 L1113.3,922.4 Z" fill="#2d3590" stroke="#000" stroke-width="3.0" stroke-linejoin="miter"/>
<path d="M1147.8,884.2 L1157.6,894.0 L1147.8,903.8 L1138.0,894.0 Z" fill="#2d3590" stroke="#000" stroke-width="3.0" stroke-linejoin="miter"/>
<path d="M1172.3,862.3 L1182.1,872.1 L1172.3,881.9 L1162.5,872.1 Z" fill="#2d3590" stroke="#000" stroke-width="3.0" stroke-linejoin="miter"/>
<path d="M1197.0,845.6 L1206.8,855.4 L1197.0,865.2 L1187.2,855.4 Z" fill="#2d3590" stroke="#000" stroke-width="3.0" stroke-linejoin="miter"/>
<path d="M1221.7,833.4 L1231.5,843.2 L1221.7,853.0 L1211.9,843.2 Z" fill="#2d3590" stroke="#000" stroke-width="3.0" stroke-linejoin="miter"/>
<path d="M1246.7,824.2 L1256.5,834.0 L1246.7,843.8 L1236.9,834.0 Z" fill="#2d3590" stroke="#000" stroke-width="3.0" stroke-linejoin="miter"/>
<path d="M1271.4,817.2 L1281.2,827.0 L1271.4,836.8 L1261.6,827.0 Z" fill="#2d3590" stroke="#000" stroke-width="3.0" stroke-linejoin="miter"/>
<path d="M1295.9,811.4 L1305.7,821.2 L1295.9,831.0 L1286.1,821.2 Z" fill="#2d3590" stroke="#000" stroke-width="3.0" stroke-linejoin="miter"/>
<path d="M1320.6,809.1 L1330.4,818.9 L1320.6,828.7 L1310.8,818.9 Z" fill="#2d3590" stroke="#000" stroke-width="3.0" stroke-linejoin="miter"/>
<path d="M1345.3,806.8 L1355.1,816.6 L1345.3,826.4 L1335.5,816.6 Z" fill="#2d3590" stroke="#000" stroke-width="3.0" stroke-linejoin="miter"/>
<path d="M1370.3,805.7 L1380.1,815.5 L1370.3,825.3 L1360.5,815.5 Z" fill="#2d3590" stroke="#000" stroke-width="3.0" stroke-linejoin="miter"/>
<path d="M1395.2,803.4 L1405.0,813.2 L1395.2,823.0 L1385.4,813.2 Z" fill="#2d3590" stroke="#000" stroke-width="3.0" stroke-linejoin="miter"/>
<path d="M1420.6,801.5 L1430.4,811.3 L1420.6,821.1 L1410.8,811.3 Z" fill="#2d3590" stroke="#000" stroke-width="3.0" stroke-linejoin="miter"/>
<rect x="1066.4" y="1069.8" width="14" height="14" fill="#70bfe2" stroke="#000" stroke-width="3.0"/>
<rect x="1091.2" y="1000.5" width="14" height="14" fill="#70bfe2" stroke="#000" stroke-width="3.0"/>
<rect x="1115.7" y="958.3" width="14" height="14" fill="#70bfe2" stroke="#000" stroke-width="3.0"/>
<rect x="1140.6" y="922.9" width="14" height="14" fill="#70bfe2" stroke="#000" stroke-width="3.0"/>
<rect x="1165.3" y="897.9" width="14" height="14" fill="#70bfe2" stroke="#000" stroke-width="3.0"/>
<rect x="1190.0" y="878.2" width="14" height="14" fill="#70bfe2" stroke="#000" stroke-width="3.0"/>
<rect x="1214.7" y="861.6" width="14" height="14" fill="#70bfe2" stroke="#000" stroke-width="3.0"/>
<rect x="1239.7" y="846.1" width="14" height="14" fill="#70bfe2" stroke="#000" stroke-width="3.0"/>
<rect x="1264.4" y="833.4" width="14" height="14" fill="#70bfe2" stroke="#000" stroke-width="3.0"/>
<rect x="1288.9" y="822.3" width="14" height="14" fill="#70bfe2" stroke="#000" stroke-width="3.0"/>
<rect x="1313.6" y="811.9" width="14" height="14" fill="#70bfe2" stroke="#000" stroke-width="3.0"/>
<rect x="1338.3" y="804.3" width="14" height="14" fill="#70bfe2" stroke="#000" stroke-width="3.0"/>
<rect x="1363.3" y="797.4" width="14" height="14" fill="#70bfe2" stroke="#000" stroke-width="3.0"/>
<rect x="1388.2" y="791.8" width="14" height="14" fill="#70bfe2" stroke="#000" stroke-width="3.0"/>
<rect x="1413.6" y="787.7" width="14" height="14" fill="#70bfe2" stroke="#000" stroke-width="3.0"/>
<circle cx="1202.4" cy="1064.4" r="10.7" fill="#e23a27" stroke="#000" stroke-width="2.9"/>
<path d="M1202.4,1089.9 L1217.0,1104.5 L1202.4,1119.1 L1187.8,1104.5 Z" fill="#2d3590" stroke="#000" stroke-width="2.9" stroke-linejoin="miter"/>
<rect x="1191.7" y="1133.8" width="21.4" height="21.4" fill="#70bfe2" stroke="#000" stroke-width="2.9"/>
<text transform="translate(1231.74,1071.20) scale(0.9938,1)" font-size="25" fill="#e23a27">TPPO</text>
<text transform="translate(1231.72,1111.90) scale(1.0242,1)" font-size="25" fill="#2d3590">TPAsO</text>
<text transform="translate(1231.54,1152.10) scale(1.0079,1)" font-size="25" fill="#70bfe2">Control</text>
<text x="-1.5" y="1366.3" font-size="42" font-weight="bold" fill="#000">e</text>
<rect x="95.8" y="1358" width="550.6" height="442.9000000000001" fill="none" stroke="#000" stroke-width="3"/>
<line x1="99.20" y1="1800.90" x2="99.20" y2="1785.90" stroke="#000" stroke-width="2.6"/>
<line x1="99.20" y1="1358.00" x2="99.20" y2="1373.00" stroke="#000" stroke-width="2.6"/>
<line x1="208.20" y1="1800.90" x2="208.20" y2="1785.90" stroke="#000" stroke-width="2.6"/>
<line x1="208.20" y1="1358.00" x2="208.20" y2="1373.00" stroke="#000" stroke-width="2.6"/>
<line x1="317.20" y1="1800.90" x2="317.20" y2="1785.90" stroke="#000" stroke-width="2.6"/>
<line x1="317.20" y1="1358.00" x2="317.20" y2="1373.00" stroke="#000" stroke-width="2.6"/>
<line x1="426.20" y1="1800.90" x2="426.20" y2="1785.90" stroke="#000" stroke-width="2.6"/>
<line x1="426.20" y1="1358.00" x2="426.20" y2="1373.00" stroke="#000" stroke-width="2.6"/>
<line x1="535.20" y1="1800.90" x2="535.20" y2="1785.90" stroke="#000" stroke-width="2.6"/>
<line x1="535.20" y1="1358.00" x2="535.20" y2="1373.00" stroke="#000" stroke-width="2.6"/>
<line x1="644.20" y1="1800.90" x2="644.20" y2="1785.90" stroke="#000" stroke-width="2.6"/>
<line x1="644.20" y1="1358.00" x2="644.20" y2="1373.00" stroke="#000" stroke-width="2.6"/>
<line x1="95.80" y1="1362.39" x2="102.80" y2="1362.39" stroke="#000" stroke-width="2.6"/>
<line x1="646.40" y1="1362.39" x2="639.40" y2="1362.39" stroke="#000" stroke-width="2.6"/>
<line x1="95.80" y1="1493.10" x2="110.80" y2="1493.10" stroke="#000" stroke-width="2.6"/>
<line x1="646.40" y1="1493.10" x2="631.40" y2="1493.10" stroke="#000" stroke-width="2.6"/>
<line x1="95.80" y1="1512.97" x2="102.80" y2="1512.97" stroke="#000" stroke-width="2.6"/>
<line x1="646.40" y1="1512.97" x2="639.40" y2="1512.97" stroke="#000" stroke-width="2.6"/>
<line x1="95.80" y1="1535.18" x2="102.80" y2="1535.18" stroke="#000" stroke-width="2.6"/>
<line x1="646.40" y1="1535.18" x2="639.40" y2="1535.18" stroke="#000" stroke-width="2.6"/>
<line x1="95.80" y1="1560.36" x2="102.80" y2="1560.36" stroke="#000" stroke-width="2.6"/>
<line x1="646.40" y1="1560.36" x2="639.40" y2="1560.36" stroke="#000" stroke-width="2.6"/>
<line x1="95.80" y1="1589.43" x2="102.80" y2="1589.43" stroke="#000" stroke-width="2.6"/>
<line x1="646.40" y1="1589.43" x2="639.40" y2="1589.43" stroke="#000" stroke-width="2.6"/>
<line x1="95.80" y1="1623.81" x2="102.80" y2="1623.81" stroke="#000" stroke-width="2.6"/>
<line x1="646.40" y1="1623.81" x2="639.40" y2="1623.81" stroke="#000" stroke-width="2.6"/>
<line x1="95.80" y1="1665.89" x2="102.80" y2="1665.89" stroke="#000" stroke-width="2.6"/>
<line x1="646.40" y1="1665.89" x2="639.40" y2="1665.89" stroke="#000" stroke-width="2.6"/>
<line x1="95.80" y1="1720.13" x2="102.80" y2="1720.13" stroke="#000" stroke-width="2.6"/>
<line x1="646.40" y1="1720.13" x2="639.40" y2="1720.13" stroke="#000" stroke-width="2.6"/>
<line x1="95.80" y1="1796.59" x2="102.80" y2="1796.59" stroke="#000" stroke-width="2.6"/>
<line x1="646.40" y1="1796.59" x2="639.40" y2="1796.59" stroke="#000" stroke-width="2.6"/>
<text transform="translate(99.20,1835.80) scale(1.06,1)" font-size="29.5" text-anchor="middle" fill="#000">0</text>
<path d="M0.29,0 L0.39,0 L0.39,-0.709 L0.31,-0.709 C0.295,-0.665 0.265,-0.615 0.123,-0.592 L0.123,-0.512 L0.29,-0.512 Z" transform="translate(191.80,1835.80) scale(29.5)" fill="#000"/>
<text transform="translate(216.40,1835.80) scale(1.06,1)" font-size="29.5" text-anchor="middle" fill="#000">0</text>
<text transform="translate(309.00,1835.80) scale(1.06,1)" font-size="29.5" text-anchor="middle" fill="#000">2</text>
<text transform="translate(325.40,1835.80) scale(1.06,1)" font-size="29.5" text-anchor="middle" fill="#000">0</text>
<text transform="translate(418.00,1835.80) scale(1.06,1)" font-size="29.5" text-anchor="middle" fill="#000">3</text>
<text transform="translate(434.40,1835.80) scale(1.06,1)" font-size="29.5" text-anchor="middle" fill="#000">0</text>
<text transform="translate(527.00,1835.80) scale(1.06,1)" font-size="29.5" text-anchor="middle" fill="#000">4</text>
<text transform="translate(543.40,1835.80) scale(1.06,1)" font-size="29.5" text-anchor="middle" fill="#000">0</text>
<text transform="translate(636.00,1835.80) scale(1.06,1)" font-size="29.5" text-anchor="middle" fill="#000">5</text>
<text transform="translate(652.40,1835.80) scale(1.06,1)" font-size="29.5" text-anchor="middle" fill="#000">0</text>
<path d="M0.29,0 L0.39,0 L0.39,-0.709 L0.31,-0.709 C0.295,-0.665 0.265,-0.615 0.123,-0.592 L0.123,-0.512 L0.29,-0.512 Z" transform="translate(70.38,1498.24) scale(29.5)" fill="#000"/>
<text transform="translate(76.45,1371.43) scale(1.06,1)" font-size="21" text-anchor="middle" fill="#000">2</text>
<text transform="translate(76.34,1521.73) scale(1.06,1)" font-size="21" text-anchor="middle" fill="#000">9</text>
<text transform="translate(76.28,1544.13) scale(1.06,1)" font-size="21" text-anchor="middle" fill="#000">8</text>
<text transform="translate(76.45,1569.53) scale(1.06,1)" font-size="21" text-anchor="middle" fill="#000">7</text>
<text transform="translate(76.28,1597.13) scale(1.06,1)" font-size="21" text-anchor="middle" fill="#000">6</text>
<text transform="translate(76.22,1632.83) scale(1.06,1)" font-size="21" text-anchor="middle" fill="#000">5</text>
<text transform="translate(75.94,1675.43) scale(1.06,1)" font-size="21" text-anchor="middle" fill="#000">4</text>
<text transform="translate(76.28,1729.03) scale(1.06,1)" font-size="21" text-anchor="middle" fill="#000">3</text>
<text transform="translate(76.45,1806.43) scale(1.06,1)" font-size="21" text-anchor="middle" fill="#000">2</text>
<text transform="translate(301.94,1875.00) scale(1.0091,1)" font-size="29" fill="#000">Time (min)</text>
<text transform="translate(39.20,1731.20) rotate(-90) scale(0.9873,1)" font-size="29.5" fill="#000">Normalized EL intensity</text>
<clipPath id="cpE"><rect x="97.3" y="1359.5" width="547.6" height="439.9000000000001"/></clipPath>
<g clip-path="url(#cpE)">
<path d="M99.2,1493.1 C99.6,1497.6 100.6,1510.8 101.5,1520.0 C102.4,1529.2 103.4,1538.7 104.5,1548.0 C105.6,1557.3 106.9,1568.0 108.0,1576.0 C109.1,1584.0 110.0,1589.2 111.0,1596.0 C112.0,1602.8 112.9,1609.7 114.1,1617.0 C115.3,1624.3 116.6,1632.6 118.0,1640.0 C119.4,1647.4 120.5,1653.5 122.3,1661.5 C124.0,1669.5 126.3,1678.7 128.5,1688.0 C130.7,1697.3 134.3,1712.7 135.5,1717.6" fill="none" stroke="#2d3590" stroke-width="6.5" stroke-linejoin="round" stroke-linecap="butt"/>
<path d="M99.2,1493.1 C99.4,1497.6 99.8,1511.3 100.2,1520.0 C100.6,1528.7 101.0,1536.7 101.5,1545.0 C102.0,1553.3 102.8,1561.7 103.5,1570.0 C104.2,1578.3 104.9,1585.2 106.0,1595.0 C107.1,1604.8 109.3,1622.9 110.0,1628.5" fill="none" stroke="#70bfe2" stroke-width="7" stroke-linejoin="round" stroke-linecap="butt"/>
<path d="M99.2,1493.1 C99.2,1491.6 99.1,1490.3 99.3,1484.0 C99.5,1477.7 100.0,1461.4 100.5,1455.0 C101.0,1448.6 101.6,1448.0 102.2,1445.5 C102.8,1443.0 103.4,1441.5 104.3,1440.0 C105.2,1438.5 106.5,1437.0 107.6,1436.6 C108.7,1436.2 109.9,1436.8 111.0,1437.4 C112.1,1438.0 113.0,1439.1 114.0,1439.9 C115.0,1440.8 116.0,1441.6 117.0,1442.5 C118.0,1443.4 119.0,1444.4 120.0,1445.3 C121.0,1446.2 122.0,1447.2 123.0,1448.1 C124.0,1449.1 125.0,1450.0 126.0,1451.0 C127.0,1451.9 128.0,1452.9 129.0,1453.8 C130.0,1454.7 131.0,1455.7 132.0,1456.6 C133.0,1457.5 134.0,1458.4 135.0,1459.4 C136.0,1460.3 137.0,1461.2 138.0,1462.1 C139.0,1462.9 140.0,1463.8 141.0,1464.7 C142.0,1465.6 143.0,1466.4 144.0,1467.3 C145.0,1468.1 146.0,1469.0 147.0,1469.8 C148.0,1470.6 149.0,1471.4 150.0,1472.3 C151.0,1473.1 152.0,1473.9 153.0,1474.7 C154.0,1475.5 155.0,1476.2 156.0,1477.0 C157.0,1477.8 158.0,1478.6 159.0,1479.3 C160.0,1480.1 161.0,1480.8 162.0,1481.6 C163.0,1482.3 164.0,1483.0 165.0,1483.8 C166.0,1484.5 167.0,1485.2 168.0,1485.9 C169.0,1486.6 170.0,1487.3 171.0,1488.0 C172.0,1488.7 173.0,1489.4 174.0,1490.1 C175.0,1490.8 176.0,1491.5 177.0,1492.1 C178.0,1492.8 179.0,1493.5 180.0,1494.1 C181.0,1494.8 182.0,1495.4 183.0,1496.1 C184.0,1496.7 185.0,1497.3 186.0,1498.0 C187.0,1498.6 188.0,1499.2 189.0,1499.8 C190.0,1500.4 191.0,1501.1 192.0,1501.7 C193.0,1502.3 194.0,1502.9 195.0,1503.5 C196.0,1504.1 197.0,1504.7 198.0,1505.2 C199.0,1505.8 200.0,1506.4 201.0,1507.0 C202.0,1507.6 203.0,1508.1 204.0,1508.7 C205.0,1509.3 206.0,1509.8 207.0,1510.4 C208.0,1510.9 209.0,1511.5 210.0,1512.0 C211.0,1512.6 212.0,1513.1 213.0,1513.7 C214.0,1514.2 215.0,1514.7 216.0,1515.3 C217.0,1515.8 218.0,1516.3 219.0,1516.8 C220.0,1517.4 221.0,1517.9 222.0,1518.4 C223.0,1518.9 224.0,1519.4 225.0,1519.9 C226.0,1520.4 227.0,1520.9 228.0,1521.4 C229.0,1521.9 230.0,1522.4 231.0,1522.9 C232.0,1523.4 233.0,1523.9 234.0,1524.4 C235.0,1524.9 236.0,1525.3 237.0,1525.8 C238.0,1526.3 239.0,1526.8 240.0,1527.2 C241.0,1527.7 242.0,1528.2 243.0,1528.6 C244.0,1529.1 245.0,1529.6 246.0,1530.0 C247.0,1530.5 248.0,1530.9 249.0,1531.4 C250.0,1531.8 251.0,1532.3 252.0,1532.7 C253.0,1533.2 254.0,1533.6 255.0,1534.1 C256.0,1534.5 257.0,1535.0 258.0,1535.4 C259.0,1535.8 260.0,1536.3 261.0,1536.7 C262.0,1537.1 263.0,1537.5 264.0,1538.0 C265.0,1538.4 266.0,1538.8 267.0,1539.2 C268.0,1539.7 269.0,1540.1 270.0,1540.5 C271.0,1540.9 272.0,1541.3 273.0,1541.7 C274.0,1542.1 275.0,1542.5 276.0,1542.9 C277.0,1543.4 278.0,1543.8 279.0,1544.2 C280.0,1544.6 281.0,1545.0 282.0,1545.4 C283.0,1545.7 284.0,1546.1 285.0,1546.5 C286.0,1546.9 287.0,1547.3 288.0,1547.7 C289.0,1548.1 290.0,1548.5 291.0,1548.9 C292.0,1549.2 293.0,1549.6 294.0,1550.0 C295.0,1550.4 296.0,1550.8 297.0,1551.1 C298.0,1551.5 299.0,1551.9 300.0,1552.3 C301.0,1552.6 302.0,1553.0 303.0,1553.4 C304.0,1553.7 305.0,1554.1 306.0,1554.5 C307.0,1554.8 308.0,1555.2 309.0,1555.5 C310.0,1555.9 311.0,1556.3 312.0,1556.6 C313.0,1557.0 314.0,1557.3 315.0,1557.7 C316.0,1558.0 317.0,1558.4 318.0,1558.7 C319.0,1559.1 320.0,1559.4 321.0,1559.8 C322.0,1560.1 323.0,1560.5 324.0,1560.8 C325.0,1561.2 326.0,1561.5 327.0,1561.8 C328.0,1562.2 329.0,1562.5 330.0,1562.8 C331.0,1563.2 332.0,1563.5 333.0,1563.9 C334.0,1564.2 335.0,1564.5 336.0,1564.8 C337.0,1565.2 338.0,1565.5 339.0,1565.8 C340.0,1566.2 341.0,1566.5 342.0,1566.8 C343.0,1567.1 344.0,1567.5 345.0,1567.8 C346.0,1568.1 347.0,1568.4 348.0,1568.7 C349.0,1569.1 350.0,1569.4 351.0,1569.7 C352.0,1570.0 353.0,1570.3 354.0,1570.6 C355.0,1571.0 356.0,1571.3 357.0,1571.6 C358.0,1571.9 359.0,1572.2 360.0,1572.5 C361.0,1572.8 362.0,1573.1 363.0,1573.4 C364.0,1573.7 365.0,1574.0 366.0,1574.3 C367.0,1574.6 368.0,1574.9 369.0,1575.2 C370.0,1575.5 371.0,1575.8 372.0,1576.1 C373.0,1576.4 374.0,1576.7 375.0,1577.0 C376.0,1577.3 377.0,1577.6 378.0,1577.9 C379.0,1578.2 380.0,1578.5 381.0,1578.8 C382.0,1579.1 383.0,1579.4 384.0,1579.7 C385.0,1580.0 386.0,1580.2 387.0,1580.5 C388.0,1580.8 389.0,1581.1 390.0,1581.4 C391.0,1581.7 392.0,1582.0 393.0,1582.2 C394.0,1582.5 395.0,1582.8 396.0,1583.1 C397.0,1583.4 398.0,1583.6 399.0,1583.9 C400.0,1584.2 401.0,1584.5 402.0,1584.7 C403.0,1585.0 404.0,1585.3 405.0,1585.6 C406.0,1585.8 407.0,1586.1 408.0,1586.4 C409.0,1586.7 410.0,1586.9 411.0,1587.2 C412.0,1587.5 413.0,1587.7 414.0,1588.0 C415.0,1588.3 416.0,1588.5 417.0,1588.8 C418.0,1589.1 419.0,1589.3 420.0,1589.6 C421.0,1589.9 422.0,1590.1 423.0,1590.4 C424.0,1590.7 425.0,1590.9 426.0,1591.2 C427.0,1591.4 428.0,1591.7 429.0,1592.0 C430.0,1592.2 431.0,1592.5 432.0,1592.7 C433.0,1593.0 434.0,1593.3 435.0,1593.5 C436.0,1593.8 437.0,1594.0 438.0,1594.3 C439.0,1594.5 440.0,1594.8 441.0,1595.0 C442.0,1595.3 443.0,1595.5 444.0,1595.8 C445.0,1596.0 446.0,1596.3 447.0,1596.5 C448.0,1596.8 449.0,1597.0 450.0,1597.3 C451.0,1597.5 452.0,1597.8 453.0,1598.0 C454.0,1598.3 455.0,1598.5 456.0,1598.7 C457.0,1599.0 458.0,1599.2 459.0,1599.5 C460.0,1599.7 461.0,1600.0 462.0,1600.2 C463.0,1600.4 464.0,1600.7 465.0,1600.9 C466.0,1601.2 467.0,1601.4 468.0,1601.6 C469.0,1601.9 470.0,1602.1 471.0,1602.4 C472.0,1602.6 473.0,1602.8 474.0,1603.1 C475.0,1603.3 476.0,1603.5 477.0,1603.8 C478.0,1604.0 479.0,1604.2 480.0,1604.5 C481.0,1604.7 482.0,1604.9 483.0,1605.2 C484.0,1605.4 485.0,1605.6 486.0,1605.8 C487.0,1606.1 488.0,1606.3 489.0,1606.5 C490.0,1606.8 491.0,1607.0 492.0,1607.2 C493.0,1607.4 494.0,1607.7 495.0,1607.9 C496.0,1608.1 497.0,1608.3 498.0,1608.6 C499.0,1608.8 500.0,1609.0 501.0,1609.2 C502.0,1609.5 503.0,1609.7 504.0,1609.9 C505.0,1610.1 506.0,1610.3 507.0,1610.6 C508.0,1610.8 509.0,1611.0 510.0,1611.2 C511.0,1611.4 512.0,1611.7 513.0,1611.9 C514.0,1612.1 515.0,1612.3 516.0,1612.5 C517.0,1612.7 518.0,1613.0 519.0,1613.2 C520.0,1613.4 521.0,1613.6 522.0,1613.8 C523.0,1614.0 524.0,1614.3 525.0,1614.5 C526.0,1614.7 527.0,1614.9 528.0,1615.1 C529.0,1615.3 530.0,1615.5 531.0,1615.7 C532.0,1615.9 533.0,1616.2 534.0,1616.4 C535.0,1616.6 536.0,1616.8 537.0,1617.0 C538.0,1617.2 539.0,1617.4 540.0,1617.6 C541.0,1617.8 542.0,1618.0 543.0,1618.2 C544.0,1618.4 545.0,1618.7 546.0,1618.9 C547.0,1619.1 548.0,1619.3 549.0,1619.5 C550.0,1619.7 551.0,1619.9 552.0,1620.1 C553.0,1620.3 554.0,1620.5 555.0,1620.7 C556.0,1620.9 557.0,1621.1 558.0,1621.3 C559.0,1621.5 560.0,1621.7 561.0,1621.9 C562.0,1622.1 563.0,1622.3 564.0,1622.5 C565.0,1622.7 566.0,1622.9 567.0,1623.1 C568.0,1623.3 569.0,1623.5 570.0,1623.7 C571.0,1623.9 572.0,1624.1 573.0,1624.3 C574.0,1624.5 575.0,1624.7 576.0,1624.9 C577.0,1625.1 578.0,1625.2 579.0,1625.4 C580.0,1625.6 581.0,1625.8 582.0,1626.0 C583.0,1626.2 584.0,1626.4 585.0,1626.6 C586.0,1626.8 587.0,1627.0 588.0,1627.2 C589.0,1627.4 590.0,1627.6 591.0,1627.7 C592.0,1627.9 593.0,1628.1 594.0,1628.3 C595.0,1628.5 596.0,1628.7 597.0,1628.9 C598.0,1629.1 599.0,1629.3 600.0,1629.4 C601.0,1629.6 602.0,1629.8 603.0,1630.0 C604.0,1630.2 605.0,1630.4 606.0,1630.6 C607.0,1630.8 608.0,1630.9 609.0,1631.1 C610.0,1631.3 611.0,1631.5 612.0,1631.7 C613.0,1631.9 614.0,1632.0 615.0,1632.2 C616.0,1632.4 617.0,1632.6 618.0,1632.8 C619.0,1633.0 620.0,1633.1 621.0,1633.3 C622.0,1633.5 623.0,1633.7 624.0,1633.9 C625.0,1634.0 626.0,1634.2 627.0,1634.4 C628.0,1634.6 629.0,1634.8 630.0,1634.9 C631.0,1635.1 632.0,1635.3 633.0,1635.5 C634.0,1635.7 635.0,1635.8 636.0,1636.0 C637.0,1636.2 638.0,1636.4 639.0,1636.6 C640.0,1636.7 641.0,1636.9 642.0,1637.1 C643.0,1637.3 644.5,1637.5 645.0,1637.6" fill="none" stroke="#e23a27" stroke-width="7" stroke-linejoin="round" stroke-linecap="butt"/>
</g>
<line x1="108.60" y1="1360.00" x2="108.60" y2="1794.90" stroke="#666" stroke-width="2.8" stroke-dasharray="6 5.4"/>
<line x1="97.80" y1="1493.10" x2="644.40" y2="1493.10" stroke="#666" stroke-width="2.8" stroke-dasharray="6 5.4"/>
<polyline points="97,1623.4 565,1623.4 565,1800" fill="none" stroke="#999" stroke-width="2.5"/>
<text transform="translate(150.27,1442.10) scale(0.9549,1)" font-size="29" font-style="italic" fill="#000">L</text>
<text transform="translate(165.39,1449.50) scale(0.9909,1)" font-size="20.5" fill="#000">0</text>
<text transform="translate(184.40,1442.10) scale(1.0190,1)" font-size="29" fill="#000">= 4000 cd m</text>
<text transform="translate(346.99,1429.50) scale(0.9897,1)" font-size="20.5" fill="#000">−2</text>
<text transform="translate(541.33,1477.00) scale(1.0205,1)" font-size="29" fill="#e23a27">TPPO</text>
<text transform="translate(483.32,1588.20) scale(1.0285,1)" font-size="29" font-style="italic" fill="#000">T</text>
<text transform="translate(499.36,1595.80) scale(1.1413,1)" font-size="18.5" fill="#000">50</text>
<text transform="translate(529.38,1588.20) scale(1.0281,1)" font-size="29" fill="#000">= 0.7 h</text>
<text transform="translate(129.72,1614.20) scale(1.0769,1)" font-size="28" fill="#2d3590">TPAsO</text>
<text transform="translate(125.92,1660.50) scale(1.0539,1)" font-size="28" fill="#70bfe2">Control</text>
<text x="757.0" y="1366.5" font-size="42" font-weight="bold" fill="#000">f</text>
<rect x="865.4" y="1357.7" width="552.9" height="443.29999999999995" fill="none" stroke="#000" stroke-width="3"/>
<line x1="869.00" y1="1801.00" x2="869.00" y2="1786.00" stroke="#000" stroke-width="2.6"/>
<line x1="869.00" y1="1357.70" x2="869.00" y2="1372.70" stroke="#000" stroke-width="2.6"/>
<line x1="959.90" y1="1801.00" x2="959.90" y2="1786.00" stroke="#000" stroke-width="2.6"/>
<line x1="959.90" y1="1357.70" x2="959.90" y2="1372.70" stroke="#000" stroke-width="2.6"/>
<line x1="1050.80" y1="1801.00" x2="1050.80" y2="1786.00" stroke="#000" stroke-width="2.6"/>
<line x1="1050.80" y1="1357.70" x2="1050.80" y2="1372.70" stroke="#000" stroke-width="2.6"/>
<line x1="1141.70" y1="1801.00" x2="1141.70" y2="1786.00" stroke="#000" stroke-width="2.6"/>
<line x1="1141.70" y1="1357.70" x2="1141.70" y2="1372.70" stroke="#000" stroke-width="2.6"/>
<line x1="1232.60" y1="1801.00" x2="1232.60" y2="1786.00" stroke="#000" stroke-width="2.6"/>
<line x1="1232.60" y1="1357.70" x2="1232.60" y2="1372.70" stroke="#000" stroke-width="2.6"/>
<line x1="1323.50" y1="1801.00" x2="1323.50" y2="1786.00" stroke="#000" stroke-width="2.6"/>
<line x1="1323.50" y1="1357.70" x2="1323.50" y2="1372.70" stroke="#000" stroke-width="2.6"/>
<line x1="1414.40" y1="1801.00" x2="1414.40" y2="1786.00" stroke="#000" stroke-width="2.6"/>
<line x1="1414.40" y1="1357.70" x2="1414.40" y2="1372.70" stroke="#000" stroke-width="2.6"/>
<line x1="865.40" y1="1361.15" x2="873.40" y2="1361.15" stroke="#000" stroke-width="2.6"/>
<line x1="1418.30" y1="1361.15" x2="1410.30" y2="1361.15" stroke="#000" stroke-width="2.6"/>
<line x1="865.40" y1="1448.60" x2="880.40" y2="1448.60" stroke="#000" stroke-width="2.6"/>
<line x1="1418.30" y1="1448.60" x2="1403.30" y2="1448.60" stroke="#000" stroke-width="2.6"/>
<line x1="865.40" y1="1461.89" x2="873.40" y2="1461.89" stroke="#000" stroke-width="2.6"/>
<line x1="1418.30" y1="1461.89" x2="1410.30" y2="1461.89" stroke="#000" stroke-width="2.6"/>
<line x1="865.40" y1="1476.75" x2="873.40" y2="1476.75" stroke="#000" stroke-width="2.6"/>
<line x1="1418.30" y1="1476.75" x2="1410.30" y2="1476.75" stroke="#000" stroke-width="2.6"/>
<line x1="865.40" y1="1493.60" x2="873.40" y2="1493.60" stroke="#000" stroke-width="2.6"/>
<line x1="1418.30" y1="1493.60" x2="1410.30" y2="1493.60" stroke="#000" stroke-width="2.6"/>
<line x1="865.40" y1="1513.05" x2="873.40" y2="1513.05" stroke="#000" stroke-width="2.6"/>
<line x1="1418.30" y1="1513.05" x2="1410.30" y2="1513.05" stroke="#000" stroke-width="2.6"/>
<line x1="865.40" y1="1536.05" x2="873.40" y2="1536.05" stroke="#000" stroke-width="2.6"/>
<line x1="1418.30" y1="1536.05" x2="1410.30" y2="1536.05" stroke="#000" stroke-width="2.6"/>
<line x1="865.40" y1="1564.20" x2="873.40" y2="1564.20" stroke="#000" stroke-width="2.6"/>
<line x1="1418.30" y1="1564.20" x2="1410.30" y2="1564.20" stroke="#000" stroke-width="2.6"/>
<line x1="865.40" y1="1600.50" x2="873.40" y2="1600.50" stroke="#000" stroke-width="2.6"/>
<line x1="1418.30" y1="1600.50" x2="1410.30" y2="1600.50" stroke="#000" stroke-width="2.6"/>
<line x1="865.40" y1="1651.65" x2="873.40" y2="1651.65" stroke="#000" stroke-width="2.6"/>
<line x1="1418.30" y1="1651.65" x2="1410.30" y2="1651.65" stroke="#000" stroke-width="2.6"/>
<line x1="865.40" y1="1739.10" x2="880.40" y2="1739.10" stroke="#000" stroke-width="2.6"/>
<line x1="1418.30" y1="1739.10" x2="1403.30" y2="1739.10" stroke="#000" stroke-width="2.6"/>
<line x1="865.40" y1="1752.39" x2="873.40" y2="1752.39" stroke="#000" stroke-width="2.6"/>
<line x1="1418.30" y1="1752.39" x2="1410.30" y2="1752.39" stroke="#000" stroke-width="2.6"/>
<line x1="865.40" y1="1767.25" x2="873.40" y2="1767.25" stroke="#000" stroke-width="2.6"/>
<line x1="1418.30" y1="1767.25" x2="1410.30" y2="1767.25" stroke="#000" stroke-width="2.6"/>
<line x1="865.40" y1="1784.10" x2="873.40" y2="1784.10" stroke="#000" stroke-width="2.6"/>
<line x1="1418.30" y1="1784.10" x2="1410.30" y2="1784.10" stroke="#000" stroke-width="2.6"/>
<text transform="translate(869.00,1835.60) scale(1.06,1)" font-size="29.5" text-anchor="middle" fill="#000">0</text>
<text transform="translate(951.70,1835.60) scale(1.06,1)" font-size="29.5" text-anchor="middle" fill="#000">5</text>
<text transform="translate(968.10,1835.60) scale(1.06,1)" font-size="29.5" text-anchor="middle" fill="#000">0</text>
<path d="M0.29,0 L0.39,0 L0.39,-0.709 L0.31,-0.709 C0.295,-0.665 0.265,-0.615 0.123,-0.592 L0.123,-0.512 L0.29,-0.512 Z" transform="translate(1026.20,1835.60) scale(29.5)" fill="#000"/>
<text transform="translate(1050.80,1835.60) scale(1.06,1)" font-size="29.5" text-anchor="middle" fill="#000">0</text>
<text transform="translate(1067.20,1835.60) scale(1.06,1)" font-size="29.5" text-anchor="middle" fill="#000">0</text>
<path d="M0.29,0 L0.39,0 L0.39,-0.709 L0.31,-0.709 C0.295,-0.665 0.265,-0.615 0.123,-0.592 L0.123,-0.512 L0.29,-0.512 Z" transform="translate(1117.10,1835.60) scale(29.5)" fill="#000"/>
<text transform="translate(1141.70,1835.60) scale(1.06,1)" font-size="29.5" text-anchor="middle" fill="#000">5</text>
<text transform="translate(1158.10,1835.60) scale(1.06,1)" font-size="29.5" text-anchor="middle" fill="#000">0</text>
<text transform="translate(1216.20,1835.60) scale(1.06,1)" font-size="29.5" text-anchor="middle" fill="#000">2</text>
<text transform="translate(1232.60,1835.60) scale(1.06,1)" font-size="29.5" text-anchor="middle" fill="#000">0</text>
<text transform="translate(1249.00,1835.60) scale(1.06,1)" font-size="29.5" text-anchor="middle" fill="#000">0</text>
<text transform="translate(1307.10,1835.60) scale(1.06,1)" font-size="29.5" text-anchor="middle" fill="#000">2</text>
<text transform="translate(1323.50,1835.60) scale(1.06,1)" font-size="29.5" text-anchor="middle" fill="#000">5</text>
<text transform="translate(1339.90,1835.60) scale(1.06,1)" font-size="29.5" text-anchor="middle" fill="#000">0</text>
<text transform="translate(1398.00,1835.60) scale(1.06,1)" font-size="29.5" text-anchor="middle" fill="#000">3</text>
<text transform="translate(1414.40,1835.60) scale(1.06,1)" font-size="29.5" text-anchor="middle" fill="#000">0</text>
<text transform="translate(1430.80,1835.60) scale(1.06,1)" font-size="29.5" text-anchor="middle" fill="#000">0</text>
<text transform="translate(848.01,1370.10) scale(1.06,1)" font-size="19.5" text-anchor="middle" fill="#000">2</text>
<path d="M0.29,0 L0.39,0 L0.39,-0.709 L0.31,-0.709 C0.295,-0.665 0.265,-0.615 0.123,-0.592 L0.123,-0.512 L0.29,-0.512 Z" transform="translate(845.02,1456.90) scale(19.5)" fill="#000"/>
<text transform="translate(847.85,1480.30) scale(1.06,1)" font-size="19.5" text-anchor="middle" fill="#000">8</text>
<text transform="translate(848.01,1502.40) scale(1.06,1)" font-size="19.5" text-anchor="middle" fill="#000">7</text>
<text transform="translate(847.86,1522.20) scale(1.06,1)" font-size="19.5" text-anchor="middle" fill="#000">6</text>
<text transform="translate(847.80,1544.30) scale(1.06,1)" font-size="19.5" text-anchor="middle" fill="#000">5</text>
<text transform="translate(847.54,1572.50) scale(1.06,1)" font-size="19.5" text-anchor="middle" fill="#000">4</text>
<text transform="translate(847.85,1608.40) scale(1.06,1)" font-size="19.5" text-anchor="middle" fill="#000">3</text>
<text transform="translate(848.01,1660.80) scale(1.06,1)" font-size="19.5" text-anchor="middle" fill="#000">2</text>
<text transform="translate(847.85,1773.90) scale(1.06,1)" font-size="19.5" text-anchor="middle" fill="#000">8</text>
<text transform="translate(848.01,1797.20) scale(1.06,1)" font-size="19.5" text-anchor="middle" fill="#000">7</text>
<text transform="translate(819.82,1749.89) scale(1.06,1)" font-size="28.5" text-anchor="middle" fill="#000">0</text>
<text transform="translate(831.71,1749.89) scale(1.06,1)" font-size="28.5" text-anchor="middle" fill="#000">.</text>
<path d="M0.29,0 L0.39,0 L0.39,-0.709 L0.31,-0.709 C0.295,-0.665 0.265,-0.615 0.123,-0.592 L0.123,-0.512 L0.29,-0.512 Z" transform="translate(835.67,1749.89) scale(28.5)" fill="#000"/>
<text transform="translate(1073.14,1876.20) scale(1.0084,1)" font-size="29" fill="#000">Time (min)</text>
<text transform="translate(791.20,1732.91) rotate(-90) scale(0.9909,1)" font-size="29.5" fill="#000">Normalized EL intensity</text>
<clipPath id="cpF"><rect x="866.9" y="1359.2" width="549.9" height="440.29999999999995"/></clipPath>
<g clip-path="url(#cpF)">
<path d="M870.3,1447.7 C870.2,1445.6 870.0,1438.8 870.0,1435.0 C870.0,1431.2 870.0,1428.5 870.1,1425.0 C870.2,1421.5 870.2,1418.0 870.7,1414.0 C871.2,1410.0 872.0,1404.2 872.9,1401.0 C873.8,1397.8 874.8,1396.7 876.0,1395.0 C877.2,1393.3 878.5,1391.9 880.4,1390.6 C882.3,1389.3 885.1,1388.0 887.2,1387.2 C889.3,1386.4 890.7,1386.0 893.0,1385.6 C895.3,1385.2 898.1,1384.8 900.8,1384.6 C903.5,1384.4 906.3,1384.3 909.0,1384.2 C911.7,1384.1 915.0,1384.2 917.0,1384.3 C919.0,1384.4 919.7,1384.6 921.0,1384.8 C922.3,1384.9 923.7,1385.1 925.0,1385.3 C926.3,1385.5 927.7,1385.7 929.0,1385.9 C930.3,1386.1 931.7,1386.4 933.0,1386.6 C934.3,1386.8 935.7,1387.1 937.0,1387.3 C938.3,1387.6 939.7,1387.8 941.0,1388.1 C942.3,1388.4 943.7,1388.7 945.0,1388.9 C946.3,1389.2 947.7,1389.5 949.0,1389.8 C950.3,1390.1 951.7,1390.5 953.0,1390.8 C954.3,1391.1 955.7,1391.4 957.0,1391.8 C958.3,1392.1 959.7,1392.5 961.0,1392.8 C962.3,1393.2 963.7,1393.5 965.0,1393.9 C966.3,1394.3 967.7,1394.7 969.0,1395.0 C970.3,1395.4 971.7,1395.8 973.0,1396.2 C974.3,1396.6 975.7,1397.0 977.0,1397.5 C978.3,1397.9 979.7,1398.3 981.0,1398.7 C982.3,1399.2 983.7,1399.6 985.0,1400.1 C986.3,1400.5 987.7,1401.0 989.0,1401.4 C990.3,1401.9 991.7,1402.3 993.0,1402.8 C994.3,1403.3 995.7,1403.8 997.0,1404.3 C998.3,1404.8 999.7,1405.2 1001.0,1405.7 C1002.3,1406.3 1003.7,1406.8 1005.0,1407.3 C1006.3,1407.8 1007.7,1408.3 1009.0,1408.8 C1010.3,1409.4 1011.7,1409.9 1013.0,1410.4 C1014.3,1411.0 1015.7,1411.5 1017.0,1412.1 C1018.3,1412.6 1019.7,1413.2 1021.0,1413.7 C1022.3,1414.3 1023.7,1414.9 1025.0,1415.4 C1026.3,1416.0 1027.7,1416.6 1029.0,1417.2 C1030.3,1417.8 1031.7,1418.3 1033.0,1418.9 C1034.3,1419.5 1035.7,1420.1 1037.0,1420.7 C1038.3,1421.3 1039.7,1422.0 1041.0,1422.6 C1042.3,1423.2 1043.7,1423.8 1045.0,1424.4 C1046.3,1425.0 1047.7,1425.7 1049.0,1426.3 C1050.3,1426.9 1051.7,1427.6 1053.0,1428.2 C1054.3,1428.9 1055.7,1429.5 1057.0,1430.2 C1058.3,1430.8 1059.7,1431.5 1061.0,1432.1 C1062.3,1432.8 1063.7,1433.4 1065.0,1434.1 C1066.3,1434.8 1067.7,1435.4 1069.0,1436.1 C1070.3,1436.8 1071.7,1437.5 1073.0,1438.2 C1074.3,1438.8 1075.7,1439.5 1077.0,1440.2 C1078.3,1440.9 1079.7,1441.6 1081.0,1442.3 C1082.3,1443.0 1083.7,1443.7 1085.0,1444.4 C1086.3,1445.1 1087.7,1445.8 1089.0,1446.5 C1090.3,1447.2 1091.7,1447.9 1093.0,1448.6 C1094.3,1449.3 1095.7,1450.1 1097.0,1450.8 C1098.3,1451.5 1099.7,1452.2 1101.0,1452.9 C1102.3,1453.7 1103.7,1454.4 1105.0,1455.1 C1106.3,1455.8 1107.7,1456.6 1109.0,1457.3 C1110.3,1458.0 1111.7,1458.8 1113.0,1459.5 C1114.3,1460.3 1115.7,1461.0 1117.0,1461.7 C1118.3,1462.5 1119.7,1463.2 1121.0,1464.0 C1122.3,1464.7 1123.7,1465.5 1125.0,1466.2 C1126.3,1467.0 1127.7,1467.7 1129.0,1468.5 C1130.3,1469.2 1131.7,1470.0 1133.0,1470.7 C1134.3,1471.5 1135.7,1472.3 1137.0,1473.0 C1138.3,1473.8 1139.7,1474.5 1141.0,1475.3 C1142.3,1476.1 1143.7,1476.8 1145.0,1477.6 C1146.3,1478.3 1147.7,1479.1 1149.0,1479.9 C1150.3,1480.6 1151.7,1481.4 1153.0,1482.2 C1154.3,1482.9 1155.7,1483.7 1157.0,1484.5 C1158.3,1485.3 1159.7,1486.0 1161.0,1486.8 C1162.3,1487.6 1163.7,1488.3 1165.0,1489.1 C1166.3,1489.9 1167.7,1490.6 1169.0,1491.4 C1170.3,1492.2 1171.7,1493.0 1173.0,1493.7 C1174.3,1494.5 1175.7,1495.3 1177.0,1496.1 C1178.3,1496.8 1179.7,1497.6 1181.0,1498.4 C1182.3,1499.1 1183.7,1499.9 1185.0,1500.7 C1186.3,1501.5 1187.7,1502.2 1189.0,1503.0 C1190.3,1503.8 1191.7,1504.6 1193.0,1505.3 C1194.3,1506.1 1195.7,1506.9 1197.0,1507.6 C1198.3,1508.4 1199.7,1509.2 1201.0,1509.9 C1202.3,1510.7 1203.7,1511.5 1205.0,1512.3 C1206.3,1513.0 1207.7,1513.8 1209.0,1514.6 C1210.3,1515.3 1211.7,1516.1 1213.0,1516.9 C1214.3,1517.6 1215.7,1518.4 1217.0,1519.1 C1218.3,1519.9 1219.7,1520.7 1221.0,1521.4 C1222.3,1522.2 1223.7,1523.0 1225.0,1523.7 C1226.3,1524.5 1227.7,1525.2 1229.0,1526.0 C1230.3,1526.7 1231.7,1527.5 1233.0,1528.2 C1234.3,1529.0 1235.7,1529.8 1237.0,1530.5 C1238.3,1531.3 1239.7,1532.0 1241.0,1532.8 C1242.3,1533.5 1243.7,1534.2 1245.0,1535.0 C1246.3,1535.7 1247.7,1536.5 1249.0,1537.2 C1250.3,1538.0 1251.7,1538.7 1253.0,1539.4 C1254.3,1540.2 1255.7,1540.9 1257.0,1541.6 C1258.3,1542.4 1259.7,1543.1 1261.0,1543.8 C1262.3,1544.6 1263.7,1545.3 1265.0,1546.0 C1266.3,1546.7 1267.7,1547.5 1269.0,1548.2 C1270.3,1548.9 1271.7,1549.6 1273.0,1550.4 C1274.3,1551.1 1275.7,1551.8 1277.0,1552.5 C1278.3,1553.2 1279.7,1553.9 1281.0,1554.6 C1282.3,1555.3 1283.7,1556.0 1285.0,1556.7 C1286.3,1557.4 1287.7,1558.2 1289.0,1558.8 C1290.3,1559.5 1291.7,1560.2 1293.0,1560.9 C1294.3,1561.6 1295.7,1562.3 1297.0,1563.0 C1298.3,1563.7 1299.7,1564.4 1301.0,1565.1 C1302.3,1565.8 1303.7,1566.4 1305.0,1567.1 C1306.3,1567.8 1307.7,1568.5 1309.0,1569.1 C1310.3,1569.8 1311.7,1570.5 1313.0,1571.1 C1314.3,1571.8 1315.7,1572.5 1317.0,1573.1 C1318.3,1573.8 1319.7,1574.5 1321.0,1575.1 C1322.3,1575.8 1323.7,1576.4 1325.0,1577.1 C1326.3,1577.7 1327.7,1578.4 1329.0,1579.0 C1330.3,1579.7 1331.7,1580.3 1333.0,1580.9 C1334.3,1581.6 1335.7,1582.2 1337.0,1582.8 C1338.3,1583.5 1339.7,1584.1 1341.0,1584.7 C1342.3,1585.3 1343.7,1586.0 1345.0,1586.6 C1346.3,1587.2 1347.7,1587.8 1349.0,1588.4 C1350.3,1589.0 1351.7,1589.7 1353.0,1590.3 C1354.3,1590.9 1355.7,1591.5 1357.0,1592.1 C1358.3,1592.7 1359.7,1593.3 1361.0,1593.9 C1362.3,1594.5 1363.7,1595.1 1365.0,1595.6 C1366.3,1596.2 1367.7,1596.8 1369.0,1597.4 C1370.3,1598.0 1371.7,1598.5 1373.0,1599.1 C1374.3,1599.7 1375.7,1600.3 1377.0,1600.8 C1378.3,1601.4 1379.7,1602.0 1381.0,1602.5 C1382.3,1603.1 1383.7,1603.7 1385.0,1604.2 C1386.3,1604.8 1387.7,1605.3 1389.0,1605.9 C1390.3,1606.4 1391.7,1607.0 1393.0,1607.5 C1394.3,1608.0 1395.7,1608.6 1397.0,1609.1 C1398.3,1609.6 1399.7,1610.2 1401.0,1610.7 C1402.3,1611.2 1403.7,1611.8 1405.0,1612.3 C1406.3,1612.8 1407.7,1613.3 1409.0,1613.8 C1410.3,1614.4 1411.7,1614.9 1413.0,1615.4 C1414.3,1615.9 1416.3,1616.6 1417.0,1616.9" fill="none" stroke="#000" stroke-width="6.8" stroke-linejoin="round" stroke-linecap="butt"/>
</g>
<line x1="888.20" y1="1359.70" x2="888.20" y2="1793.00" stroke="#666" stroke-width="2.8" stroke-dasharray="6 5.4"/>
<line x1="871.60" y1="1430.10" x2="1410.50" y2="1430.10" stroke="#666" stroke-width="2.8" stroke-dasharray="6 5.4"/>
<polyline points="867,1536.2 1243,1536.2 1243,1800" fill="none" stroke="#999" stroke-width="2.5"/>
<text transform="translate(1034.57,1408.90) scale(0.9717,1)" font-size="28.5" font-style="italic" fill="#000">L</text>
<text transform="translate(1049.50,1416.00) scale(1.0052,1)" font-size="20" fill="#000">0</text>
<text transform="translate(1068.30,1408.90) scale(1.0317,1)" font-size="28.5" fill="#000">= 4000 cd m</text>
<text transform="translate(1229.25,1396.70) scale(1.0481,1)" font-size="20" fill="#000">−2</text>
<text transform="translate(1303.34,1409.80) scale(1.0657,1)" font-size="28" fill="#000">MPPO</text>
<text transform="translate(1259.77,1527.60) scale(1.0776,1)" font-size="24" font-style="italic" fill="#000">T</text>
<text transform="translate(1273.81,1535.70) scale(1.0204,1)" font-size="16.8" fill="#000">50</text>
<text transform="translate(1298.90,1527.60) scale(1.0518,1)" font-size="24" fill="#000">= 3.5 h</text>
<text transform="translate(940.47,1620.80) scale(1.0333,1)" font-size="28.5" fill="#000">MPPO</text>
<polygon points="966.4,1644.9 996.6,1644.9 1011.1,1670.1 996.6,1695.5 966.4,1695.5 951.5,1670.1" fill="none" stroke="#000" stroke-width="2.4" stroke-linejoin="round"/>
<line x1="970.50" y1="1652.00" x2="992.90" y2="1652.00" stroke="#000" stroke-width="2.4" stroke-linecap="round"/>
<line x1="960.20" y1="1669.70" x2="971.40" y2="1688.70" stroke="#000" stroke-width="2.4" stroke-linecap="round"/>
<line x1="1003.40" y1="1669.70" x2="992.10" y2="1688.70" stroke="#000" stroke-width="2.4" stroke-linecap="round"/>
<line x1="1011.10" y1="1670.10" x2="1032.20" y2="1670.10" stroke="#000" stroke-width="2.4" stroke-linecap="round"/>
<line x1="1036.70" y1="1651.30" x2="1036.70" y2="1661.50" stroke="#000" stroke-width="2.4" stroke-linecap="round"/>
<line x1="1044.10" y1="1651.30" x2="1044.10" y2="1661.50" stroke="#000" stroke-width="2.4" stroke-linecap="round"/>
<polyline points="1049.6,1669 1069.3,1665.3 1082.9,1691.7 1061.8,1711.8 1035.3,1698.9 1038.7,1681.2" fill="none" stroke="#000" stroke-width="2.4" stroke-linejoin="round"/>
<line x1="1065.20" y1="1673.80" x2="1074.00" y2="1689.80" stroke="#000" stroke-width="2.4" stroke-linecap="round"/>
<line x1="1082.90" y1="1691.70" x2="1111.40" y2="1699.20" stroke="#000" stroke-width="2.4" stroke-linecap="round"/>
<text transform="translate(1034.00,1677.10) scale(1.0154,1)" font-size="19" font-weight="bold" fill="#000">P</text>
<text transform="translate(1032.51,1648.60) scale(1.0451,1)" font-size="19" font-weight="bold" fill="#000">O</text>
</svg></body></html>
